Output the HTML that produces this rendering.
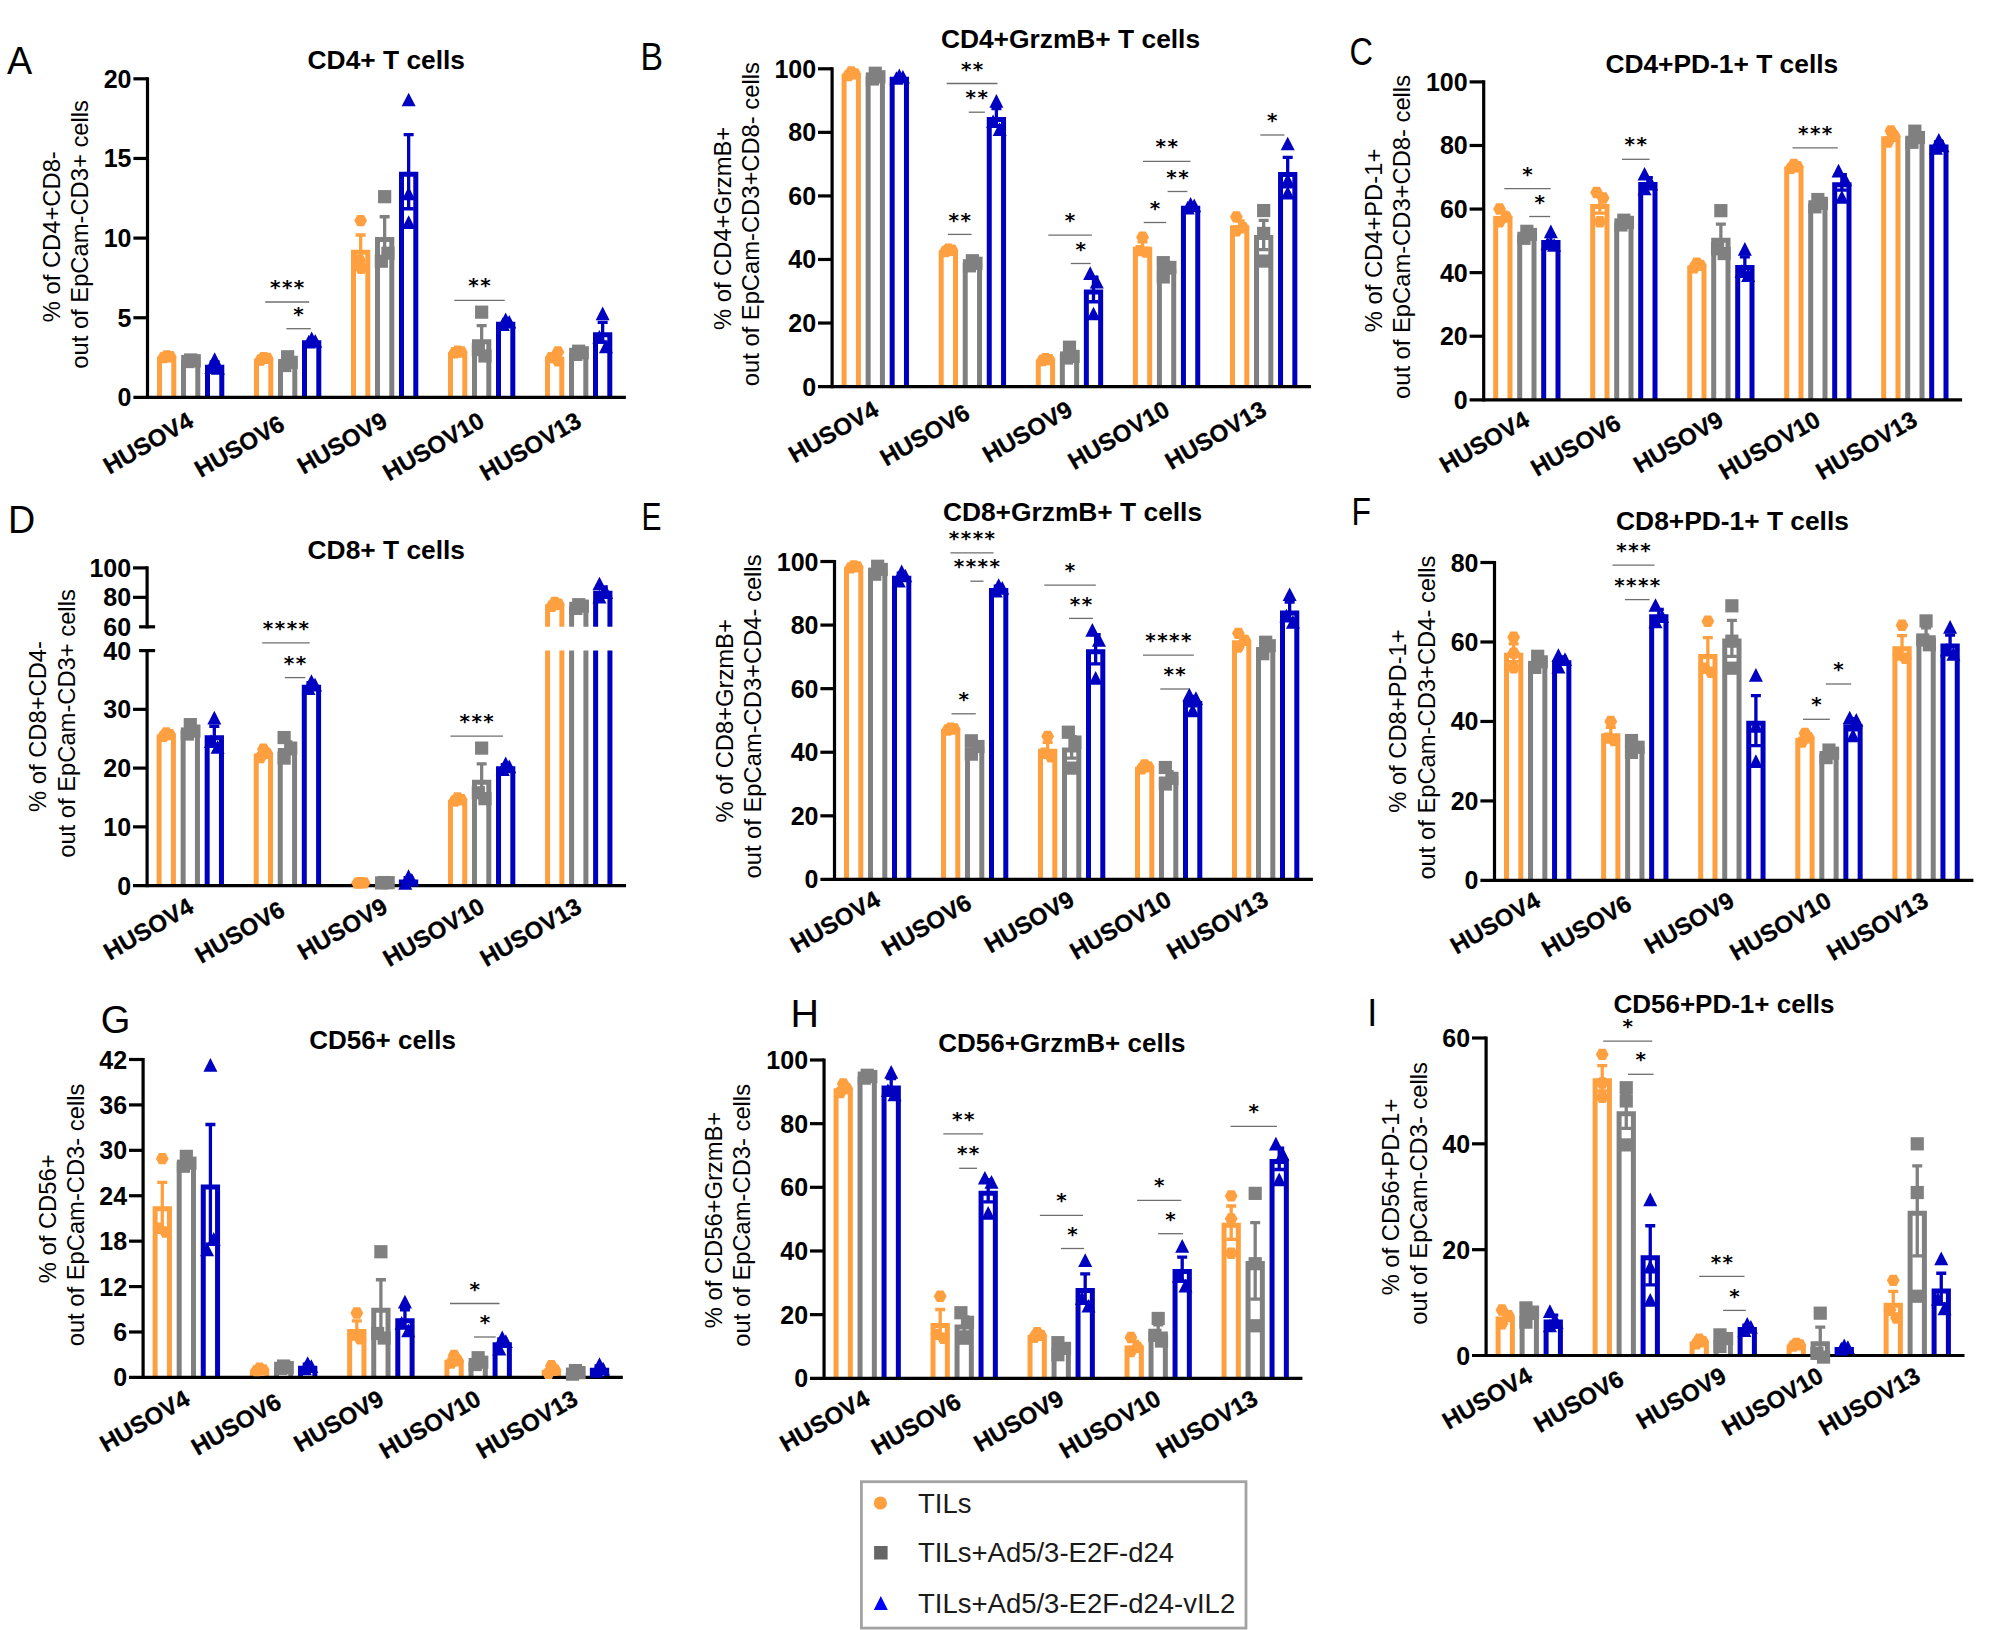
<!DOCTYPE html>
<html lang="en"><head><meta charset="utf-8"><title>Figure: T cell and NK cell phenotypes</title>
<style>
html,body{margin:0;padding:0;background:#fff;}
body{width:2000px;height:1630px;overflow:hidden;}
svg{display:block;}
text{font-family:"Liberation Sans",sans-serif;fill:#000;}
.tk{font-size:25px;font-weight:bold;text-anchor:end;}
.tt{font-size:26.6px;font-weight:bold;text-anchor:middle;}
.yl{font-size:23.75px;text-anchor:middle;}
.xl{font-size:24px;font-weight:bold;text-anchor:end;stroke:#000;stroke-width:0.3px;}
.st{font-family:"DejaVu Sans",sans-serif;font-size:20px;font-weight:bold;text-anchor:middle;letter-spacing:1.45px;}
.pl{font-size:38px;}
.lg{font-size:27.5px;fill:#1a1a1a;}
</style></head><body>
<svg width="2000" height="1630" viewBox="0 0 2000 1630">
<rect width="2000" height="1630" fill="#fff"/>
<g>
<path d="M159.5 397.4 V359.28 H173.8 V397.4" stroke="#FFA040" stroke-width="5" fill="none"/>
<path d="M183.5 397.4 V363.26 H197.8 V397.4" stroke="#808080" stroke-width="5" fill="none"/>
<path d="M207.5 397.4 V367.24 H221.8 V397.4" stroke="#0000C0" stroke-width="5" fill="none"/>
<path d="M214.65 361.95 V367.54 M209.65 361.95 H219.65 M209.65 367.54 H219.65" stroke="#0000C0" stroke-width="3.3" fill="none"/>
<path d="M256.5 397.4 V361.14 H270.8 V397.4" stroke="#FFA040" stroke-width="5" fill="none"/>
<path d="M280.5 397.4 V364.06 H294.8 V397.4" stroke="#808080" stroke-width="5" fill="none"/>
<path d="M287.65 359 V364.12 M282.65 359 H292.65 M282.65 364.12 H292.65" stroke="#808080" stroke-width="3.3" fill="none"/>
<path d="M304.5 397.4 V342.82 H318.8 V397.4" stroke="#0000C0" stroke-width="5" fill="none"/>
<path d="M353.5 397.4 V252.28 H367.8 V397.4" stroke="#FFA040" stroke-width="5" fill="none"/>
<path d="M360.65 235 V264.56 M355.65 235 H365.65 M355.65 264.56 H365.65" stroke="#FFA040" stroke-width="3.3" fill="none"/>
<path d="M377.5 397.4 V239.54 H391.8 V397.4" stroke="#808080" stroke-width="5" fill="none"/>
<path d="M384.65 216.73 V257.35 M379.65 216.73 H389.65 M379.65 257.35 H389.65" stroke="#808080" stroke-width="3.3" fill="none"/>
<path d="M401.5 397.4 V174.23 H415.8 V397.4" stroke="#0000C0" stroke-width="5" fill="none"/>
<path d="M408.65 134.68 V208.77 M403.65 134.68 H413.65 M403.65 208.77 H413.65" stroke="#0000C0" stroke-width="3.3" fill="none"/>
<path d="M450.5 397.4 V354.5 H464.8 V397.4" stroke="#FFA040" stroke-width="5" fill="none"/>
<path d="M474.5 397.4 V341.76 H488.8 V397.4" stroke="#808080" stroke-width="5" fill="none"/>
<path d="M481.65 325.59 V352.92 M476.65 325.59 H486.65 M476.65 352.92 H486.65" stroke="#808080" stroke-width="3.3" fill="none"/>
<path d="M498.5 397.4 V324.23 H512.8 V397.4" stroke="#0000C0" stroke-width="5" fill="none"/>
<path d="M547.5 397.4 V359.28 H561.8 V397.4" stroke="#FFA040" stroke-width="5" fill="none"/>
<path d="M554.65 354.22 V359.34 M549.65 354.22 H559.65 M549.65 359.34 H559.65" stroke="#FFA040" stroke-width="3.3" fill="none"/>
<path d="M571.5 397.4 V355.3 H585.8 V397.4" stroke="#808080" stroke-width="5" fill="none"/>
<path d="M595.5 397.4 V334.75 H609.8 V397.4" stroke="#0000C0" stroke-width="5" fill="none"/>
<path d="M602.65 322.45 V342.04 M597.65 322.45 H607.65 M597.65 342.04 H607.65" stroke="#0000C0" stroke-width="3.3" fill="none"/>
<path d="M147.5 399 V77.2" stroke="#000" stroke-width="3.2" fill="none"/>
<path d="M133.4 397.4 H625.9" stroke="#000" stroke-width="3.2"/>
<polygon points="160.25,355.98 163.35,350.28 169.95,350.28 173.05,355.98 169.95,361.68 163.35,361.68" fill="#FFA040"/>
<polygon points="163.85,356.78 166.95,351.08 173.55,351.08 176.65,356.78 173.55,362.48 166.95,362.48" fill="#FFA040"/>
<polygon points="157.35,357.57 160.45,351.88 167.05,351.88 170.15,357.57 167.05,363.27 160.45,363.27" fill="#FFA040"/>
<rect x="184.05" y="353.36" width="13.2" height="13.2" fill="#808080"/>
<rect x="187.65" y="354.16" width="13.2" height="13.2" fill="#808080"/>
<rect x="181.15" y="354.96" width="13.2" height="13.2" fill="#808080"/>
<polygon points="214.65,352.32 221.65,366.02 207.65,366.02" fill="#0000C0"/>
<polygon points="211.35,360.28 218.35,373.98 204.35,373.98" fill="#0000C0"/>
<polygon points="217.95,361.08 224.95,374.78 210.95,374.78" fill="#0000C0"/>
<polygon points="257.25,357.57 260.35,351.88 266.95,351.88 270.05,357.57 266.95,363.27 260.35,363.27" fill="#FFA040"/>
<polygon points="260.85,358.37 263.95,352.67 270.55,352.67 273.65,358.37 270.55,364.07 263.95,364.07" fill="#FFA040"/>
<polygon points="254.35,359.96 257.45,354.26 264.05,354.26 267.15,359.96 264.05,365.66 257.45,365.66" fill="#FFA040"/>
<rect x="281.05" y="350.18" width="13.2" height="13.2" fill="#808080"/>
<rect x="284.65" y="355.75" width="13.2" height="13.2" fill="#808080"/>
<rect x="278.15" y="358.94" width="13.2" height="13.2" fill="#808080"/>
<polygon points="311.65,331.61 318.65,345.31 304.65,345.31" fill="#0000C0"/>
<polygon points="315.25,334 322.25,347.7 308.25,347.7" fill="#0000C0"/>
<polygon points="308.75,334.79 315.75,348.5 301.75,348.5" fill="#0000C0"/>
<polygon points="354.25,220.58 357.35,214.88 363.95,214.88 367.05,220.58 363.95,226.28 357.35,226.28" fill="#FFA040"/>
<polygon points="353.25,260.4 356.35,254.7 362.95,254.7 366.05,260.4 362.95,266.1 356.35,266.1" fill="#FFA040"/>
<polygon points="354.75,268.37 357.85,262.67 364.45,262.67 367.55,268.37 364.45,274.07 357.85,274.07" fill="#FFA040"/>
<rect x="378.05" y="190.08" width="13.2" height="13.2" fill="#808080"/>
<rect x="381.35" y="246.63" width="13.2" height="13.2" fill="#808080"/>
<rect x="374.75" y="254.6" width="13.2" height="13.2" fill="#808080"/>
<polygon points="408.65,92.66 415.65,106.36 401.65,106.36" fill="#0000C0"/>
<polygon points="408.65,186.65 415.65,200.35 401.65,200.35" fill="#0000C0"/>
<polygon points="408.65,215.32 415.65,229.02 401.65,229.02" fill="#0000C0"/>
<polygon points="451.25,351.2 454.35,345.5 460.95,345.5 464.05,351.2 460.95,356.9 454.35,356.9" fill="#FFA040"/>
<polygon points="454.85,352 457.95,346.3 464.55,346.3 467.65,352 464.55,357.7 457.95,357.7" fill="#FFA040"/>
<polygon points="448.35,352.8 451.45,347.1 458.05,347.1 461.15,352.8 458.05,358.5 451.45,358.5" fill="#FFA040"/>
<rect x="475.05" y="305.57" width="13.2" height="13.2" fill="#808080"/>
<rect x="471.75" y="343.01" width="13.2" height="13.2" fill="#808080"/>
<rect x="478.35" y="349.38" width="13.2" height="13.2" fill="#808080"/>
<polygon points="505.65,312.49 512.65,326.19 498.65,326.19" fill="#0000C0"/>
<polygon points="509.25,314.88 516.25,328.58 502.25,328.58" fill="#0000C0"/>
<polygon points="502.75,317.27 509.75,330.97 495.75,330.97" fill="#0000C0"/>
<polygon points="551.55,352 554.65,346.3 561.25,346.3 564.35,352 561.25,357.7 554.65,357.7" fill="#FFA040"/>
<polygon points="544.95,357.57 548.05,351.88 554.65,351.88 557.75,357.57 554.65,363.27 548.05,363.27" fill="#FFA040"/>
<polygon points="551.55,360.76 554.65,355.06 561.25,355.06 564.35,360.76 561.25,366.46 554.65,366.46" fill="#FFA040"/>
<rect x="572.05" y="344.6" width="13.2" height="13.2" fill="#808080"/>
<rect x="575.65" y="346.2" width="13.2" height="13.2" fill="#808080"/>
<rect x="569.15" y="347.79" width="13.2" height="13.2" fill="#808080"/>
<polygon points="602.65,306.6 609.65,320.3 595.65,320.3" fill="#0000C0"/>
<polygon points="599.35,330.02 606.35,343.72 592.35,343.72" fill="#0000C0"/>
<polygon points="605.95,339.57 612.95,353.27 598.95,353.27" fill="#0000C0"/>
<text class="tk" x="131.5" y="406.4">0</text>
<path d="M133.4 317.75 H147.5" stroke="#000" stroke-width="3.2"/>
<text class="tk" x="131.5" y="326.75">5</text>
<path d="M133.4 238.1 H147.5" stroke="#000" stroke-width="3.2"/>
<text class="tk" x="131.5" y="247.1">10</text>
<path d="M133.4 158.45 H147.5" stroke="#000" stroke-width="3.2"/>
<text class="tk" x="131.5" y="167.45">15</text>
<path d="M133.4 78.8 H147.5" stroke="#000" stroke-width="3.2"/>
<text class="tk" x="131.5" y="87.8">20</text>
<text class="tt" x="386.3" y="68.8" style="font-size:26.35px">CD4+ T cells</text>
<text class="yl" transform="translate(59.6 236.7) rotate(-90)">% of CD4+CD8-</text>
<text class="yl" transform="translate(88 234.4) rotate(-90)">out of EpCam-CD3+ cells</text>
<text class="xl" transform="translate(194.95 425.5) rotate(-30)">HUSOV4</text>
<text class="xl" transform="translate(286.35 428.75) rotate(-30)">HUSOV6</text>
<text class="xl" transform="translate(388.95 425.5) rotate(-30)">HUSOV9</text>
<text class="xl" transform="translate(485.95 425.5) rotate(-30)">HUSOV10</text>
<text class="xl" transform="translate(582.95 425.5) rotate(-30)">HUSOV13</text>
<path d="M265.2 302 H309.2" stroke="#6e6e6e" stroke-width="1.3"/>
<text class="st" x="287.9" y="294.1">***</text>
<path d="M286.4 328.7 H310.8" stroke="#6e6e6e" stroke-width="1.3"/>
<text class="st" x="299.3" y="320.8">*</text>
<path d="M454.3 300.3 H504.7" stroke="#6e6e6e" stroke-width="1.3"/>
<text class="st" x="480.2" y="292.4">**</text>
<text class="pl" x="7" y="73.6" textLength="25.2" lengthAdjust="spacingAndGlyphs">A</text>
</g>
<g>
<path d="M844.11 386.6 V76.28 H858.41 V386.6" stroke="#FFA040" stroke-width="5" fill="none"/>
<path d="M868.13 386.6 V78.82 H882.43 V386.6" stroke="#808080" stroke-width="5" fill="none"/>
<path d="M875.28 74.66 V77.99 M870.28 74.66 H880.28 M870.28 77.99 H880.28" stroke="#808080" stroke-width="3.3" fill="none"/>
<path d="M892.16 386.6 V79.25 H906.46 V386.6" stroke="#0000C0" stroke-width="5" fill="none"/>
<path d="M941.21 386.6 V252.87 H955.51 V386.6" stroke="#FFA040" stroke-width="5" fill="none"/>
<path d="M965.23 386.6 V265.79 H979.53 V386.6" stroke="#808080" stroke-width="5" fill="none"/>
<path d="M989.25 386.6 V119.61 H1003.55 V386.6" stroke="#0000C0" stroke-width="5" fill="none"/>
<path d="M996.4 108.68 V125.53 M991.4 108.68 H1001.4 M991.4 125.53 H1001.4" stroke="#0000C0" stroke-width="3.3" fill="none"/>
<path d="M1038.3 386.6 V362.09 H1052.6 V386.6" stroke="#FFA040" stroke-width="5" fill="none"/>
<path d="M1062.33 386.6 V356.37 H1076.63 V386.6" stroke="#808080" stroke-width="5" fill="none"/>
<path d="M1069.48 350.5 V357.23 M1064.48 350.5 H1074.48 M1064.48 357.23 H1074.48" stroke="#808080" stroke-width="3.3" fill="none"/>
<path d="M1086.35 386.6 V291.96 H1100.65 V386.6" stroke="#0000C0" stroke-width="5" fill="none"/>
<path d="M1093.5 277.18 V301.74 M1088.5 277.18 H1098.5 M1088.5 301.74 H1098.5" stroke="#0000C0" stroke-width="3.3" fill="none"/>
<path d="M1135.4 386.6 V249.16 H1149.7 V386.6" stroke="#FFA040" stroke-width="5" fill="none"/>
<path d="M1142.55 241.93 V251.4 M1137.55 241.93 H1147.55 M1137.55 251.4 H1147.55" stroke="#FFA040" stroke-width="3.3" fill="none"/>
<path d="M1159.42 386.6 V271.51 H1173.72 V386.6" stroke="#808080" stroke-width="5" fill="none"/>
<path d="M1166.57 264.81 V273.22 M1161.57 264.81 H1171.57 M1161.57 273.22 H1171.57" stroke="#808080" stroke-width="3.3" fill="none"/>
<path d="M1183.45 386.6 V208.17 H1197.75 V386.6" stroke="#0000C0" stroke-width="5" fill="none"/>
<path d="M1232.5 386.6 V227.66 H1246.8 V386.6" stroke="#FFA040" stroke-width="5" fill="none"/>
<path d="M1239.65 220.93 V229.39 M1234.65 220.93 H1244.65 M1234.65 229.39 H1244.65" stroke="#FFA040" stroke-width="3.3" fill="none"/>
<path d="M1256.52 386.6 V237.51 H1270.82 V386.6" stroke="#808080" stroke-width="5" fill="none"/>
<path d="M1263.67 220.4 V249.62 M1258.67 220.4 H1268.67 M1258.67 249.62 H1268.67" stroke="#808080" stroke-width="3.3" fill="none"/>
<path d="M1280.55 386.6 V174.59 H1294.85 V386.6" stroke="#0000C0" stroke-width="5" fill="none"/>
<path d="M1287.7 157.32 V186.85 M1282.7 157.32 H1292.7 M1282.7 186.85 H1292.7" stroke="#0000C0" stroke-width="3.3" fill="none"/>
<path d="M832.1 388.2 V67.2" stroke="#000" stroke-width="3.2" fill="none"/>
<path d="M818 386.6 H1310.98" stroke="#000" stroke-width="3.2"/>
<polygon points="844.86,71.98 847.96,66.28 854.56,66.28 857.66,71.98 854.56,77.68 847.96,77.68" fill="#FFA040"/>
<polygon points="848.46,73.88 851.56,68.18 858.16,68.18 861.26,73.88 858.16,79.58 851.56,79.58" fill="#FFA040"/>
<polygon points="841.96,75.47 845.06,69.77 851.66,69.77 854.76,75.47 851.66,81.17 845.06,81.17" fill="#FFA040"/>
<rect x="868.68" y="66.65" width="13.2" height="13.2" fill="#808080"/>
<rect x="872.28" y="70.15" width="13.2" height="13.2" fill="#808080"/>
<rect x="865.78" y="72.37" width="13.2" height="13.2" fill="#808080"/>
<polygon points="899.31,68.62 906.31,82.32 892.31,82.32" fill="#0000C0"/>
<polygon points="902.91,69.9 909.91,83.59 895.91,83.59" fill="#0000C0"/>
<polygon points="896.41,71.17 903.41,84.87 889.41,84.87" fill="#0000C0"/>
<polygon points="941.96,249.31 945.06,243.61 951.66,243.61 954.76,249.31 951.66,255.01 945.06,255.01" fill="#FFA040"/>
<polygon points="945.56,250.26 948.66,244.56 955.26,244.56 958.36,250.26 955.26,255.96 948.66,255.96" fill="#FFA040"/>
<polygon points="939.06,251.54 942.16,245.84 948.76,245.84 951.86,251.54 948.76,257.24 942.16,257.24" fill="#FFA040"/>
<rect x="965.78" y="254.15" width="13.2" height="13.2" fill="#808080"/>
<rect x="969.38" y="256.69" width="13.2" height="13.2" fill="#808080"/>
<rect x="962.88" y="259.24" width="13.2" height="13.2" fill="#808080"/>
<polygon points="996.4,94.05 1003.4,107.75 989.4,107.75" fill="#0000C0"/>
<polygon points="993.1,114.39 1000.1,128.09 986.1,128.09" fill="#0000C0"/>
<polygon points="999.7,122.33 1006.7,136.03 992.7,136.03" fill="#0000C0"/>
<polygon points="1039.05,358.63 1042.15,352.93 1048.75,352.93 1051.85,358.63 1048.75,364.33 1042.15,364.33" fill="#FFA040"/>
<polygon points="1042.65,359.59 1045.75,353.89 1052.35,353.89 1055.45,359.59 1052.35,365.29 1045.75,365.29" fill="#FFA040"/>
<polygon points="1036.15,360.54 1039.25,354.84 1045.85,354.84 1048.95,360.54 1045.85,366.24 1039.25,366.24" fill="#FFA040"/>
<rect x="1062.88" y="340.59" width="13.2" height="13.2" fill="#808080"/>
<rect x="1066.48" y="349.81" width="13.2" height="13.2" fill="#808080"/>
<rect x="1059.98" y="351.4" width="13.2" height="13.2" fill="#808080"/>
<polygon points="1090.2,266.3 1097.2,280 1083.2,280" fill="#0000C0"/>
<polygon points="1096.8,274.88 1103.8,288.58 1089.8,288.58" fill="#0000C0"/>
<polygon points="1093.5,306.66 1100.5,320.36 1086.5,320.36" fill="#0000C0"/>
<polygon points="1136.15,237.23 1139.25,231.53 1145.85,231.53 1148.95,237.23 1145.85,242.93 1139.25,242.93" fill="#FFA040"/>
<polygon points="1132.85,250.58 1135.95,244.88 1142.55,244.88 1145.65,250.58 1142.55,256.28 1135.95,256.28" fill="#FFA040"/>
<polygon points="1139.45,252.17 1142.55,246.47 1149.15,246.47 1152.25,252.17 1149.15,257.87 1142.55,257.87" fill="#FFA040"/>
<rect x="1156.67" y="256.06" width="13.2" height="13.2" fill="#808080"/>
<rect x="1163.27" y="260.82" width="13.2" height="13.2" fill="#808080"/>
<rect x="1156.67" y="270.36" width="13.2" height="13.2" fill="#808080"/>
<polygon points="1190.6,197.02 1197.6,210.72 1183.6,210.72" fill="#0000C0"/>
<polygon points="1194.2,198.6 1201.2,212.3 1187.2,212.3" fill="#0000C0"/>
<polygon points="1187.7,200.83 1194.7,214.53 1180.7,214.53" fill="#0000C0"/>
<polygon points="1229.95,216.89 1233.05,211.19 1239.65,211.19 1242.75,216.89 1239.65,222.59 1233.05,222.59" fill="#FFA040"/>
<polygon points="1236.55,227.7 1239.65,222 1246.25,222 1249.35,227.7 1246.25,233.4 1239.65,233.4" fill="#FFA040"/>
<polygon points="1229.95,230.88 1233.05,225.18 1239.65,225.18 1242.75,230.88 1239.65,236.58 1233.05,236.58" fill="#FFA040"/>
<rect x="1257.07" y="203.94" width="13.2" height="13.2" fill="#808080"/>
<rect x="1257.07" y="226.82" width="13.2" height="13.2" fill="#808080"/>
<rect x="1257.07" y="254.47" width="13.2" height="13.2" fill="#808080"/>
<polygon points="1287.7,136.63 1294.7,150.33 1280.7,150.33" fill="#0000C0"/>
<polygon points="1287.7,173.18 1294.7,186.88 1280.7,186.88" fill="#0000C0"/>
<polygon points="1287.7,185.89 1294.7,199.59 1280.7,199.59" fill="#0000C0"/>
<text class="tk" x="816.1" y="395.6">0</text>
<path d="M818 323.04 H832.1" stroke="#000" stroke-width="3.2"/>
<text class="tk" x="816.1" y="332.04">20</text>
<path d="M818 259.48 H832.1" stroke="#000" stroke-width="3.2"/>
<text class="tk" x="816.1" y="268.48">40</text>
<path d="M818 195.92 H832.1" stroke="#000" stroke-width="3.2"/>
<text class="tk" x="816.1" y="204.92">60</text>
<path d="M818 132.36 H832.1" stroke="#000" stroke-width="3.2"/>
<text class="tk" x="816.1" y="141.36">80</text>
<path d="M818 68.8 H832.1" stroke="#000" stroke-width="3.2"/>
<text class="tk" x="816.1" y="77.8">100</text>
<text class="tt" x="1070.5" y="47.5" style="font-size:26.35px">CD4+GrzmB+ T cells</text>
<text class="yl" transform="translate(731.1 228.4) rotate(-90)">% of CD4+GrzmB+</text>
<text class="yl" transform="translate(759.1 224.2) rotate(-90)">out of EpCam-CD3+CD8- cells</text>
<text class="xl" transform="translate(880.25 414.2) rotate(-30)">HUSOV4</text>
<text class="xl" transform="translate(971.65 417.45) rotate(-30)">HUSOV6</text>
<text class="xl" transform="translate(1074.25 414.2) rotate(-30)">HUSOV9</text>
<text class="xl" transform="translate(1171.25 414.2) rotate(-30)">HUSOV10</text>
<text class="xl" transform="translate(1268.25 414.2) rotate(-30)">HUSOV13</text>
<path d="M946.7 83.5 H997.5" stroke="#6e6e6e" stroke-width="1.3"/>
<text class="st" x="972.8" y="75.6">**</text>
<path d="M968.7 112.2 H984.9" stroke="#6e6e6e" stroke-width="1.3"/>
<text class="st" x="977.5" y="104.3">**</text>
<path d="M947.8 234.4 H971.6" stroke="#6e6e6e" stroke-width="1.3"/>
<text class="st" x="960.4" y="226.5">**</text>
<path d="M1048.3 235.1 H1091.8" stroke="#6e6e6e" stroke-width="1.3"/>
<text class="st" x="1070.75" y="227.2">*</text>
<path d="M1070.8 263.5 H1090.7" stroke="#6e6e6e" stroke-width="1.3"/>
<text class="st" x="1081.45" y="255.6">*</text>
<path d="M1143 161.3 H1190.5" stroke="#6e6e6e" stroke-width="1.3"/>
<text class="st" x="1167.45" y="153.4">**</text>
<path d="M1167.6 191.5 H1187.4" stroke="#6e6e6e" stroke-width="1.3"/>
<text class="st" x="1178.2" y="183.6">**</text>
<path d="M1143.7 222.5 H1166.2" stroke="#6e6e6e" stroke-width="1.3"/>
<text class="st" x="1155.65" y="214.6">*</text>
<path d="M1260.3 135 H1284.4" stroke="#6e6e6e" stroke-width="1.3"/>
<text class="st" x="1273.05" y="127.1">*</text>
<text class="pl" x="640.5" y="70" textLength="22.5" lengthAdjust="spacingAndGlyphs">B</text>
</g>
<g>
<path d="M1495.7 399.8 V218.45 H1510 V399.8" stroke="#FFA040" stroke-width="5" fill="none"/>
<path d="M1502.85 212.24 V219.66 M1497.85 212.24 H1507.85 M1497.85 219.66 H1507.85" stroke="#FFA040" stroke-width="3.3" fill="none"/>
<path d="M1519.7 399.8 V237.2 H1534 V399.8" stroke="#808080" stroke-width="5" fill="none"/>
<path d="M1526.85 232.68 V236.73 M1521.85 232.68 H1531.85 M1521.85 236.73 H1531.85" stroke="#808080" stroke-width="3.3" fill="none"/>
<path d="M1543.7 399.8 V242.4 H1558 V399.8" stroke="#0000C0" stroke-width="5" fill="none"/>
<path d="M1550.85 235.58 V244.21 M1545.85 235.58 H1555.85 M1545.85 244.21 H1555.85" stroke="#0000C0" stroke-width="3.3" fill="none"/>
<path d="M1592.7 399.8 V206.58 H1607 V399.8" stroke="#FFA040" stroke-width="5" fill="none"/>
<path d="M1599.85 195.09 V213.06 M1594.85 195.09 H1604.85 M1594.85 213.06 H1604.85" stroke="#FFA040" stroke-width="3.3" fill="none"/>
<path d="M1616.7 399.8 V225.02 H1631 V399.8" stroke="#808080" stroke-width="5" fill="none"/>
<path d="M1640.7 399.8 V184.43 H1655 V399.8" stroke="#0000C0" stroke-width="5" fill="none"/>
<path d="M1647.85 177.63 V186.24 M1642.85 177.63 H1652.85 M1642.85 186.24 H1652.85" stroke="#0000C0" stroke-width="3.3" fill="none"/>
<path d="M1689.7 399.8 V267.93 H1704 V399.8" stroke="#FFA040" stroke-width="5" fill="none"/>
<path d="M1713.7 399.8 V240.17 H1728 V399.8" stroke="#808080" stroke-width="5" fill="none"/>
<path d="M1720.85 224.09 V251.25 M1715.85 224.09 H1725.85 M1715.85 251.25 H1725.85" stroke="#808080" stroke-width="3.3" fill="none"/>
<path d="M1737.7 399.8 V267.51 H1752 V399.8" stroke="#0000C0" stroke-width="5" fill="none"/>
<path d="M1744.85 256.82 V273.2 M1739.85 256.82 H1749.85 M1739.85 273.2 H1749.85" stroke="#0000C0" stroke-width="3.3" fill="none"/>
<path d="M1786.7 399.8 V169.07 H1801 V399.8" stroke="#FFA040" stroke-width="5" fill="none"/>
<path d="M1810.7 399.8 V205.73 H1825 V399.8" stroke="#808080" stroke-width="5" fill="none"/>
<path d="M1817.85 201.12 V205.34 M1812.85 201.12 H1822.85 M1812.85 205.34 H1822.85" stroke="#808080" stroke-width="3.3" fill="none"/>
<path d="M1834.7 399.8 V184.86 H1849 V399.8" stroke="#0000C0" stroke-width="5" fill="none"/>
<path d="M1841.85 174.61 V190.11 M1836.85 174.61 H1846.85 M1836.85 190.11 H1846.85" stroke="#0000C0" stroke-width="3.3" fill="none"/>
<path d="M1883.7 399.8 V138.87 H1898 V399.8" stroke="#FFA040" stroke-width="5" fill="none"/>
<path d="M1890.85 133.15 V139.58 M1885.85 133.15 H1895.85 M1885.85 139.58 H1895.85" stroke="#FFA040" stroke-width="3.3" fill="none"/>
<path d="M1907.7 399.8 V139.5 H1922 V399.8" stroke="#808080" stroke-width="5" fill="none"/>
<path d="M1914.85 133.78 V140.23 M1909.85 133.78 H1919.85 M1909.85 140.23 H1919.85" stroke="#808080" stroke-width="3.3" fill="none"/>
<path d="M1931.7 399.8 V146.92 H1946 V399.8" stroke="#0000C0" stroke-width="5" fill="none"/>
<path d="M1938.85 141.98 V146.86 M1933.85 141.98 H1943.85 M1933.85 146.86 H1943.85" stroke="#0000C0" stroke-width="3.3" fill="none"/>
<path d="M1483.7 401.4 V80.3" stroke="#000" stroke-width="3.2" fill="none"/>
<path d="M1469.6 399.8 H1962.1" stroke="#000" stroke-width="3.2"/>
<polygon points="1493.15,209.06 1496.25,203.36 1502.85,203.36 1505.95,209.06 1502.85,214.76 1496.25,214.76" fill="#FFA040"/>
<polygon points="1499.75,217.01 1502.85,211.31 1509.45,211.31 1512.55,217.01 1509.45,222.71 1502.85,222.71" fill="#FFA040"/>
<polygon points="1493.15,221.78 1496.25,216.08 1502.85,216.08 1505.95,221.78 1502.85,227.48 1496.25,227.48" fill="#FFA040"/>
<rect x="1520.25" y="224.71" width="13.2" height="13.2" fill="#808080"/>
<rect x="1523.85" y="227.89" width="13.2" height="13.2" fill="#808080"/>
<rect x="1517.35" y="231.71" width="13.2" height="13.2" fill="#808080"/>
<polygon points="1550.85,224.46 1557.85,238.16 1543.85,238.16" fill="#0000C0"/>
<polygon points="1547.55,236.54 1554.55,250.24 1540.55,250.24" fill="#0000C0"/>
<polygon points="1554.15,238.13 1561.15,251.83 1547.15,251.83" fill="#0000C0"/>
<polygon points="1590.15,192.53 1593.25,186.83 1599.85,186.83 1602.95,192.53 1599.85,198.23 1593.25,198.23" fill="#FFA040"/>
<polygon points="1596.75,197.93 1599.85,192.23 1606.45,192.23 1609.55,197.93 1606.45,203.63 1599.85,203.63" fill="#FFA040"/>
<polygon points="1593.45,221.78 1596.55,216.08 1603.15,216.08 1606.25,221.78 1603.15,227.48 1596.55,227.48" fill="#FFA040"/>
<rect x="1617.25" y="213.59" width="13.2" height="13.2" fill="#808080"/>
<rect x="1620.85" y="215.81" width="13.2" height="13.2" fill="#808080"/>
<rect x="1614.35" y="218.36" width="13.2" height="13.2" fill="#808080"/>
<polygon points="1644.55,166.92 1651.55,180.62 1637.55,180.62" fill="#0000C0"/>
<polygon points="1651.15,176.78 1658.15,190.48 1644.15,190.48" fill="#0000C0"/>
<polygon points="1644.55,181.55 1651.55,195.25 1637.55,195.25" fill="#0000C0"/>
<polygon points="1690.45,263.1 1693.55,257.4 1700.15,257.4 1703.25,263.1 1700.15,268.8 1693.55,268.8" fill="#FFA040"/>
<polygon points="1694.05,265.33 1697.15,259.63 1703.75,259.63 1706.85,265.33 1703.75,271.03 1697.15,271.03" fill="#FFA040"/>
<polygon points="1687.55,267.87 1690.65,262.17 1697.25,262.17 1700.35,267.87 1697.25,273.57 1690.65,273.57" fill="#FFA040"/>
<rect x="1714.25" y="204.05" width="13.2" height="13.2" fill="#808080"/>
<rect x="1710.95" y="242.2" width="13.2" height="13.2" fill="#808080"/>
<rect x="1717.55" y="246.97" width="13.2" height="13.2" fill="#808080"/>
<polygon points="1744.85,241.95 1751.85,255.65 1737.85,255.65" fill="#0000C0"/>
<polygon points="1741.55,264.2 1748.55,277.9 1734.55,277.9" fill="#0000C0"/>
<polygon points="1748.15,268.33 1755.15,282.03 1741.15,282.03" fill="#0000C0"/>
<polygon points="1787.45,164.55 1790.55,158.85 1797.15,158.85 1800.25,164.55 1797.15,170.25 1790.55,170.25" fill="#FFA040"/>
<polygon points="1791.05,166.78 1794.15,161.08 1800.75,161.08 1803.85,166.78 1800.75,172.48 1794.15,172.48" fill="#FFA040"/>
<polygon points="1784.55,168.37 1787.65,162.67 1794.25,162.67 1797.35,168.37 1794.25,174.07 1787.65,174.07" fill="#FFA040"/>
<rect x="1811.25" y="192.92" width="13.2" height="13.2" fill="#808080"/>
<rect x="1814.85" y="196.74" width="13.2" height="13.2" fill="#808080"/>
<rect x="1808.35" y="200.23" width="13.2" height="13.2" fill="#808080"/>
<polygon points="1838.55,163.74 1845.55,177.44 1831.55,177.44" fill="#0000C0"/>
<polygon points="1845.15,172.65 1852.15,186.35 1838.15,186.35" fill="#0000C0"/>
<polygon points="1841.85,190.13 1848.85,203.83 1834.85,203.83" fill="#0000C0"/>
<polygon points="1884.45,130.86 1887.55,125.16 1894.15,125.16 1897.25,130.86 1894.15,136.56 1887.55,136.56" fill="#FFA040"/>
<polygon points="1888.05,136.26 1891.15,130.56 1897.75,130.56 1900.85,136.26 1897.75,141.96 1891.15,141.96" fill="#FFA040"/>
<polygon points="1881.55,141.98 1884.65,136.28 1891.25,136.28 1894.35,141.98 1891.25,147.68 1884.65,147.68" fill="#FFA040"/>
<rect x="1908.25" y="124.57" width="13.2" height="13.2" fill="#808080"/>
<rect x="1911.85" y="130.93" width="13.2" height="13.2" fill="#808080"/>
<rect x="1905.35" y="135.7" width="13.2" height="13.2" fill="#808080"/>
<polygon points="1938.85,132.91 1945.85,146.61 1931.85,146.61" fill="#0000C0"/>
<polygon points="1942.45,138.63 1949.45,152.33 1935.45,152.33" fill="#0000C0"/>
<polygon points="1935.95,141.17 1942.95,154.87 1928.95,154.87" fill="#0000C0"/>
<text class="tk" x="1467.7" y="408.8">0</text>
<path d="M1469.6 336.22 H1483.7" stroke="#000" stroke-width="3.2"/>
<text class="tk" x="1467.7" y="345.22">20</text>
<path d="M1469.6 272.64 H1483.7" stroke="#000" stroke-width="3.2"/>
<text class="tk" x="1467.7" y="281.64">40</text>
<path d="M1469.6 209.06 H1483.7" stroke="#000" stroke-width="3.2"/>
<text class="tk" x="1467.7" y="218.06">60</text>
<path d="M1469.6 145.48 H1483.7" stroke="#000" stroke-width="3.2"/>
<text class="tk" x="1467.7" y="154.48">80</text>
<path d="M1469.6 81.9 H1483.7" stroke="#000" stroke-width="3.2"/>
<text class="tk" x="1467.7" y="90.9">100</text>
<text class="tt" x="1721.8" y="72.5" style="font-size:26.35px">CD4+PD-1+ T cells</text>
<text class="yl" transform="translate(1382.1 240.5) rotate(-90)">% of CD4+PD-1+</text>
<text class="yl" transform="translate(1410.1 237) rotate(-90)">out of EpCam-CD3+CD8- cells</text>
<text class="xl" transform="translate(1531.15 424.5) rotate(-30)">HUSOV4</text>
<text class="xl" transform="translate(1622.55 427.75) rotate(-30)">HUSOV6</text>
<text class="xl" transform="translate(1725.15 424.5) rotate(-30)">HUSOV9</text>
<text class="xl" transform="translate(1822.15 424.5) rotate(-30)">HUSOV10</text>
<text class="xl" transform="translate(1919.15 424.5) rotate(-30)">HUSOV13</text>
<path d="M1504.3 188.7 H1550.7" stroke="#6e6e6e" stroke-width="1.3"/>
<text class="st" x="1528.2" y="180.8">*</text>
<path d="M1529.2 216.5 H1550.2" stroke="#6e6e6e" stroke-width="1.3"/>
<text class="st" x="1540.4" y="208.6">*</text>
<path d="M1622 159.3 H1649.6" stroke="#6e6e6e" stroke-width="1.3"/>
<text class="st" x="1636.5" y="151.4">**</text>
<path d="M1792.5 147.8 H1837.8" stroke="#6e6e6e" stroke-width="1.3"/>
<text class="st" x="1815.85" y="139.9">***</text>
<text class="pl" x="1349.5" y="65" textLength="23.5" lengthAdjust="spacingAndGlyphs">C</text>
</g>
<g>
<path d="M159.11 885.6 V737.11 H173.41 V885.6" stroke="#FFA040" stroke-width="5" fill="none"/>
<path d="M183.14 885.6 V732.41 H197.44 V885.6" stroke="#808080" stroke-width="5" fill="none"/>
<path d="M190.29 727.14 V732.69 M185.29 727.14 H195.29 M185.29 732.69 H195.29" stroke="#808080" stroke-width="3.3" fill="none"/>
<path d="M207.17 885.6 V737.7 H221.47 V885.6" stroke="#0000C0" stroke-width="5" fill="none"/>
<path d="M214.32 726.23 V744.17 M209.32 726.23 H219.32 M209.32 744.17 H219.32" stroke="#0000C0" stroke-width="3.3" fill="none"/>
<path d="M256.23 885.6 V755.91 H270.53 V885.6" stroke="#FFA040" stroke-width="5" fill="none"/>
<path d="M263.38 751.04 V755.79 M258.38 751.04 H268.38 M258.38 755.79 H268.38" stroke="#FFA040" stroke-width="3.3" fill="none"/>
<path d="M280.26 885.6 V750.43 H294.56 V885.6" stroke="#808080" stroke-width="5" fill="none"/>
<path d="M287.41 741.99 V753.87 M282.41 741.99 H292.41 M282.41 753.87 H292.41" stroke="#808080" stroke-width="3.3" fill="none"/>
<path d="M304.29 885.6 V687.18 H318.59 V885.6" stroke="#0000C0" stroke-width="5" fill="none"/>
<path d="M311.44 682.64 V686.71 M306.44 682.64 H316.44 M306.44 686.71 H316.44" stroke="#0000C0" stroke-width="3.3" fill="none"/>
<rect x="350.84" y="882.9" width="19.3" height="2.7" fill="#FFA040"/>
<rect x="374.87" y="882.7" width="19.3" height="2.9" fill="#808080"/>
<path d="M401.4 885.6 V882.07 H415.7 V885.6" stroke="#0000C0" stroke-width="5" fill="none"/>
<path d="M408.55 877.6 V881.54 M403.55 877.6 H413.55 M403.55 881.54 H413.55" stroke="#0000C0" stroke-width="3.3" fill="none"/>
<path d="M450.46 885.6 V802.13 H464.76 V885.6" stroke="#FFA040" stroke-width="5" fill="none"/>
<path d="M474.49 885.6 V782.35 H488.79 V885.6" stroke="#808080" stroke-width="5" fill="none"/>
<path d="M481.64 763.9 V795.8 M476.64 763.9 H486.64 M476.64 795.8 H486.64" stroke="#808080" stroke-width="3.3" fill="none"/>
<path d="M498.52 885.6 V768.84 H512.82 V885.6" stroke="#0000C0" stroke-width="5" fill="none"/>
<path d="M505.67 764.64 V768.03 M500.67 764.64 H510.67 M500.67 768.03 H510.67" stroke="#0000C0" stroke-width="3.3" fill="none"/>
<path d="M547.58 885.6 V650.6 M561.88 885.6 V650.6" stroke="#FFA040" stroke-width="5" fill="none"/>
<path d="M547.58 626.8 V606.82 H561.88 V626.8" stroke="#FFA040" stroke-width="5" fill="none"/>
<path d="M571.61 885.6 V650.6 M585.91 885.6 V650.6" stroke="#808080" stroke-width="5" fill="none"/>
<path d="M571.61 626.8 V608.93 H585.91 V626.8" stroke="#808080" stroke-width="5" fill="none"/>
<path d="M595.63 885.6 V650.6 M609.93 885.6 V650.6" stroke="#0000C0" stroke-width="5" fill="none"/>
<path d="M595.63 626.8 V593.27 H609.93 V626.8" stroke="#0000C0" stroke-width="5" fill="none"/>
<path d="M602.78 586.92 V594.62 M597.78 586.92 H607.78 M597.78 594.62 H607.78" stroke="#0000C0" stroke-width="3.3" fill="none"/>
<path d="M147.1 887.2 V649" stroke="#000" stroke-width="3.2" fill="none"/>
<path d="M147.1 628.4 V566.3" stroke="#000" stroke-width="3.2" fill="none"/>
<path d="M139.1 650.6 H155.1" stroke="#000" stroke-width="3.2"/>
<path d="M139.1 626.8 H155.1" stroke="#000" stroke-width="3.2"/>
<path d="M133 885.6 H626.07" stroke="#000" stroke-width="3.2"/>
<polygon points="159.86,732.85 162.96,727.15 169.56,727.15 172.66,732.85 169.56,738.55 162.96,738.55" fill="#FFA040"/>
<polygon points="163.46,734.61 166.56,728.91 173.16,728.91 176.26,734.61 173.16,740.31 166.56,740.31" fill="#FFA040"/>
<polygon points="156.96,736.38 160.06,730.67 166.66,730.67 169.76,736.38 166.66,742.08 160.06,742.08" fill="#FFA040"/>
<rect x="183.69" y="718.02" width="13.2" height="13.2" fill="#808080"/>
<rect x="187.29" y="724.49" width="13.2" height="13.2" fill="#808080"/>
<rect x="180.79" y="727.42" width="13.2" height="13.2" fill="#808080"/>
<polygon points="214.32,710.73 221.32,724.43 207.32,724.43" fill="#0000C0"/>
<polygon points="211.02,734.23 218.02,747.93 204.02,747.93" fill="#0000C0"/>
<polygon points="217.62,740.1 224.62,753.8 210.62,753.8" fill="#0000C0"/>
<polygon points="256.98,749.3 260.08,743.6 266.68,743.6 269.78,749.3 266.68,755 260.08,755" fill="#FFA040"/>
<polygon points="260.58,753.41 263.68,747.71 270.28,747.71 273.38,753.41 270.28,759.11 263.68,759.11" fill="#FFA040"/>
<polygon points="254.08,757.52 257.18,751.82 263.78,751.82 266.88,757.52 263.78,763.23 257.18,763.23" fill="#FFA040"/>
<rect x="277.51" y="730.95" width="13.2" height="13.2" fill="#808080"/>
<rect x="284.11" y="741.52" width="13.2" height="13.2" fill="#808080"/>
<rect x="277.51" y="751.51" width="13.2" height="13.2" fill="#808080"/>
<polygon points="311.44,674.3 318.44,688 304.44,688" fill="#0000C0"/>
<polygon points="315.04,677.82 322.04,691.52 308.04,691.52" fill="#0000C0"/>
<polygon points="308.54,681.35 315.54,695.05 301.54,695.05" fill="#0000C0"/>
<polygon points="354.09,882.66 357.19,876.96 363.79,876.96 366.89,882.66 363.79,888.36 357.19,888.36" fill="#FFA040"/>
<polygon points="357.69,882.9 360.79,877.2 367.39,877.2 370.49,882.9 367.39,888.6 360.79,888.6" fill="#FFA040"/>
<polygon points="351.19,883.13 354.29,877.43 360.89,877.43 363.99,883.13 360.89,888.83 354.29,888.83" fill="#FFA040"/>
<rect x="377.92" y="875.95" width="13.2" height="13.2" fill="#808080"/>
<rect x="381.52" y="876.06" width="13.2" height="13.2" fill="#808080"/>
<rect x="375.02" y="876.3" width="13.2" height="13.2" fill="#808080"/>
<polygon points="408.55,869.23 415.55,882.93 401.55,882.93" fill="#0000C0"/>
<polygon points="411.85,872.88 418.85,886.58 404.85,886.58" fill="#0000C0"/>
<polygon points="405.25,876.05 412.25,889.75 398.25,889.75" fill="#0000C0"/>
<polygon points="451.21,798.06 454.31,792.36 460.91,792.36 464.01,798.06 460.91,803.76 454.31,803.76" fill="#FFA040"/>
<polygon points="454.81,799.83 457.91,794.12 464.51,794.12 467.61,799.83 464.51,805.53 457.91,805.53" fill="#FFA040"/>
<polygon points="448.31,801 451.41,795.3 458.01,795.3 461.11,801 458.01,806.7 451.41,806.7" fill="#FFA040"/>
<rect x="475.04" y="741.52" width="13.2" height="13.2" fill="#808080"/>
<rect x="471.74" y="786.17" width="13.2" height="13.2" fill="#808080"/>
<rect x="478.34" y="792.05" width="13.2" height="13.2" fill="#808080"/>
<polygon points="505.67,756.55 512.67,770.25 498.67,770.25" fill="#0000C0"/>
<polygon points="509.27,759.49 516.27,773.19 502.27,773.19" fill="#0000C0"/>
<polygon points="502.77,762.42 509.77,776.12 495.77,776.12" fill="#0000C0"/>
<polygon points="548.33,602.5 551.43,596.8 558.03,596.8 561.13,602.5 558.03,608.2 551.43,608.2" fill="#FFA040"/>
<polygon points="551.93,604.27 555.03,598.57 561.63,598.57 564.73,604.27 561.63,609.97 555.03,609.97" fill="#FFA040"/>
<polygon points="545.43,606.18 548.53,600.48 555.13,600.48 558.23,606.18 555.13,611.88 548.53,611.88" fill="#FFA040"/>
<rect x="572.16" y="598.11" width="13.2" height="13.2" fill="#808080"/>
<rect x="575.76" y="599.58" width="13.2" height="13.2" fill="#808080"/>
<rect x="569.26" y="601.79" width="13.2" height="13.2" fill="#808080"/>
<polygon points="599.48,576.66 606.48,590.36 592.48,590.36" fill="#0000C0"/>
<polygon points="606.08,585.35 613.08,599.05 599.08,599.05" fill="#0000C0"/>
<polygon points="599.48,589.76 606.48,603.46 592.48,603.46" fill="#0000C0"/>
<text class="tk" x="131.1" y="894.6">0</text>
<path d="M133 826.85 H147.1" stroke="#000" stroke-width="3.2"/>
<text class="tk" x="131.1" y="835.85">10</text>
<path d="M133 768.1 H147.1" stroke="#000" stroke-width="3.2"/>
<text class="tk" x="131.1" y="777.1">20</text>
<path d="M133 709.35 H147.1" stroke="#000" stroke-width="3.2"/>
<text class="tk" x="131.1" y="718.35">30</text>
<text class="tk" x="131.1" y="659.6">40</text>
<text class="tk" x="131.1" y="635.8">60</text>
<path d="M133 597.35 H147.1" stroke="#000" stroke-width="3.2"/>
<text class="tk" x="131.1" y="606.35">80</text>
<path d="M133 567.9 H147.1" stroke="#000" stroke-width="3.2"/>
<text class="tk" x="131.1" y="576.9">100</text>
<text class="tt" x="386.3" y="558.5" style="font-size:26.35px">CD8+ T cells</text>
<text class="yl" transform="translate(45.7 726.5) rotate(-90)">% of CD8+CD4-</text>
<text class="yl" transform="translate(74.9 723.5) rotate(-90)">out of EpCam-CD3+ cells</text>
<text class="xl" transform="translate(195.25 911.3) rotate(-30)">HUSOV4</text>
<text class="xl" transform="translate(286.65 914.55) rotate(-30)">HUSOV6</text>
<text class="xl" transform="translate(389.25 911.3) rotate(-30)">HUSOV9</text>
<text class="xl" transform="translate(486.25 911.3) rotate(-30)">HUSOV10</text>
<text class="xl" transform="translate(583.25 911.3) rotate(-30)">HUSOV13</text>
<path d="M262.2 642.9 H309.7" stroke="#6e6e6e" stroke-width="1.3"/>
<text class="st" x="286.65" y="635">****</text>
<path d="M284.8 677.6 H305.3" stroke="#6e6e6e" stroke-width="1.3"/>
<text class="st" x="295.75" y="669.7">**</text>
<path d="M450.4 736.2 H503" stroke="#6e6e6e" stroke-width="1.3"/>
<text class="st" x="477.4" y="728.3">***</text>
<text class="pl" x="8" y="532.5" textLength="27.2" lengthAdjust="spacingAndGlyphs">D</text>
</g>
<g>
<path d="M846.5 879.4 V569.4 H860.8 V879.4" stroke="#FFA040" stroke-width="5" fill="none"/>
<path d="M870.5 879.4 V572.48 H884.8 V879.4" stroke="#808080" stroke-width="5" fill="none"/>
<path d="M877.65 567.67 V572.29 M872.65 567.67 H882.65 M872.65 572.29 H882.65" stroke="#808080" stroke-width="3.3" fill="none"/>
<path d="M894.5 879.4 V578.31 H908.8 V879.4" stroke="#0000C0" stroke-width="5" fill="none"/>
<path d="M901.65 573.14 V578.47 M896.65 573.14 H906.65 M896.65 578.47 H906.65" stroke="#0000C0" stroke-width="3.3" fill="none"/>
<path d="M943.5 879.4 V731.53 H957.8 V879.4" stroke="#FFA040" stroke-width="5" fill="none"/>
<path d="M967.5 879.4 V749.65 H981.8 V879.4" stroke="#808080" stroke-width="5" fill="none"/>
<path d="M974.65 743.29 V751.02 M969.65 743.29 H979.65 M969.65 751.02 H979.65" stroke="#808080" stroke-width="3.3" fill="none"/>
<path d="M991.5 879.4 V590.39 H1005.8 V879.4" stroke="#0000C0" stroke-width="5" fill="none"/>
<path d="M998.65 586.23 V589.54 M993.65 586.23 H1003.65 M993.65 589.54 H1003.65" stroke="#0000C0" stroke-width="3.3" fill="none"/>
<path d="M1040.5 879.4 V751.24 H1054.8 V879.4" stroke="#FFA040" stroke-width="5" fill="none"/>
<path d="M1047.65 742.46 V755.02 M1042.65 742.46 H1052.65 M1042.65 755.02 H1052.65" stroke="#FFA040" stroke-width="3.3" fill="none"/>
<path d="M1064.5 879.4 V749.97 H1078.8 V879.4" stroke="#808080" stroke-width="5" fill="none"/>
<path d="M1071.65 736.76 V758.19 M1066.65 736.76 H1076.65 M1066.65 758.19 H1076.65" stroke="#808080" stroke-width="3.3" fill="none"/>
<path d="M1088.5 879.4 V651.74 H1102.8 V879.4" stroke="#0000C0" stroke-width="5" fill="none"/>
<path d="M1095.65 634.64 V663.84 M1090.65 634.64 H1100.65 M1090.65 663.84 H1100.65" stroke="#0000C0" stroke-width="3.3" fill="none"/>
<path d="M1137.5 879.4 V769.36 H1151.8 V879.4" stroke="#FFA040" stroke-width="5" fill="none"/>
<path d="M1161.5 879.4 V779.11 H1175.8 V879.4" stroke="#808080" stroke-width="5" fill="none"/>
<path d="M1168.65 771.77 V781.46 M1163.65 771.77 H1173.65 M1163.65 781.46 H1173.65" stroke="#808080" stroke-width="3.3" fill="none"/>
<path d="M1185.5 879.4 V703.56 H1199.8 V879.4" stroke="#0000C0" stroke-width="5" fill="none"/>
<path d="M1192.65 696.34 V705.78 M1187.65 696.34 H1197.65 M1187.65 705.78 H1197.65" stroke="#0000C0" stroke-width="3.3" fill="none"/>
<path d="M1234.5 879.4 V642.73 H1248.8 V879.4" stroke="#FFA040" stroke-width="5" fill="none"/>
<path d="M1241.65 636.29 V644.18 M1236.65 636.29 H1246.65 M1236.65 644.18 H1246.65" stroke="#FFA040" stroke-width="3.3" fill="none"/>
<path d="M1258.5 879.4 V649.73 H1272.8 V879.4" stroke="#808080" stroke-width="5" fill="none"/>
<path d="M1265.65 643.84 V650.61 M1260.65 643.84 H1270.65 M1260.65 650.61 H1270.65" stroke="#808080" stroke-width="3.3" fill="none"/>
<path d="M1282.5 879.4 V613.06 H1296.8 V879.4" stroke="#0000C0" stroke-width="5" fill="none"/>
<path d="M1289.65 602.2 V618.93 M1284.65 602.2 H1294.65 M1284.65 618.93 H1294.65" stroke="#0000C0" stroke-width="3.3" fill="none"/>
<path d="M834.5 881 V559.9" stroke="#000" stroke-width="3.2" fill="none"/>
<path d="M820.4 879.4 H1312.9" stroke="#000" stroke-width="3.2"/>
<polygon points="847.25,565.95 850.35,560.25 856.95,560.25 860.05,565.95 856.95,571.65 850.35,571.65" fill="#FFA040"/>
<polygon points="850.85,566.9 853.95,561.2 860.55,561.2 863.65,566.9 860.55,572.6 853.95,572.6" fill="#FFA040"/>
<polygon points="844.35,567.86 847.45,562.16 854.05,562.16 857.15,567.86 854.05,573.56 847.45,573.56" fill="#FFA040"/>
<rect x="871.05" y="559.67" width="13.2" height="13.2" fill="#808080"/>
<rect x="874.65" y="562.85" width="13.2" height="13.2" fill="#808080"/>
<rect x="868.15" y="567.62" width="13.2" height="13.2" fill="#808080"/>
<polygon points="901.65,564.5 908.65,578.2 894.65,578.2" fill="#0000C0"/>
<polygon points="905.25,568.64 912.25,582.34 898.25,582.34" fill="#0000C0"/>
<polygon points="898.75,573.72 905.75,587.42 891.75,587.42" fill="#0000C0"/>
<polygon points="944.25,728.08 947.35,722.38 953.95,722.38 957.05,728.08 953.95,733.78 947.35,733.78" fill="#FFA040"/>
<polygon points="947.85,729.03 950.95,723.33 957.55,723.33 960.65,729.03 957.55,734.73 950.95,734.73" fill="#FFA040"/>
<polygon points="941.35,729.99 944.45,724.29 951.05,724.29 954.15,729.99 951.05,735.69 944.45,735.69" fill="#FFA040"/>
<rect x="964.75" y="734.2" width="13.2" height="13.2" fill="#808080"/>
<rect x="971.35" y="739.92" width="13.2" height="13.2" fill="#808080"/>
<rect x="964.75" y="747.55" width="13.2" height="13.2" fill="#808080"/>
<polygon points="998.65,578.17 1005.65,591.87 991.65,591.87" fill="#0000C0"/>
<polygon points="1002.25,581.04 1009.25,594.74 995.25,594.74" fill="#0000C0"/>
<polygon points="995.75,583.9 1002.75,597.6 988.75,597.6" fill="#0000C0"/>
<polygon points="1041.25,736.35 1044.35,730.64 1050.95,730.64 1054.05,736.35 1050.95,742.05 1044.35,742.05" fill="#FFA040"/>
<polygon points="1037.95,753.19 1041.05,747.49 1047.65,747.49 1050.75,753.19 1047.65,758.89 1041.05,758.89" fill="#FFA040"/>
<polygon points="1044.55,756.69 1047.65,750.99 1054.25,750.99 1057.35,756.69 1054.25,762.39 1047.65,762.39" fill="#FFA040"/>
<rect x="1061.75" y="725.61" width="13.2" height="13.2" fill="#808080"/>
<rect x="1068.35" y="735.47" width="13.2" height="13.2" fill="#808080"/>
<rect x="1065.05" y="761.53" width="13.2" height="13.2" fill="#808080"/>
<polygon points="1092.35,623 1099.35,636.7 1085.35,636.7" fill="#0000C0"/>
<polygon points="1098.95,633.17 1105.95,646.87 1091.95,646.87" fill="#0000C0"/>
<polygon points="1095.65,671 1102.65,684.7 1088.65,684.7" fill="#0000C0"/>
<polygon points="1138.25,764.96 1141.35,759.26 1147.95,759.26 1151.05,764.96 1147.95,770.66 1141.35,770.66" fill="#FFA040"/>
<polygon points="1141.85,766.86 1144.95,761.16 1151.55,761.16 1154.65,766.86 1151.55,772.56 1144.95,772.56" fill="#FFA040"/>
<polygon points="1135.35,768.77 1138.45,763.07 1145.05,763.07 1148.15,768.77 1145.05,774.47 1138.45,774.47" fill="#FFA040"/>
<rect x="1158.75" y="760.9" width="13.2" height="13.2" fill="#808080"/>
<rect x="1165.35" y="771.71" width="13.2" height="13.2" fill="#808080"/>
<rect x="1158.75" y="777.43" width="13.2" height="13.2" fill="#808080"/>
<polygon points="1189.35,687.85 1196.35,701.55 1182.35,701.55" fill="#0000C0"/>
<polygon points="1195.95,691.35 1202.95,705.05 1188.95,705.05" fill="#0000C0"/>
<polygon points="1192.65,703.43 1199.65,717.13 1185.65,717.13" fill="#0000C0"/>
<polygon points="1231.95,633.35 1235.05,627.65 1241.65,627.65 1244.75,633.35 1241.65,639.05 1235.05,639.05" fill="#FFA040"/>
<polygon points="1238.55,640.34 1241.65,634.64 1248.25,634.64 1251.35,640.34 1248.25,646.04 1241.65,646.04" fill="#FFA040"/>
<polygon points="1231.95,647.02 1235.05,641.32 1241.65,641.32 1244.75,647.02 1241.65,652.72 1235.05,652.72" fill="#FFA040"/>
<rect x="1259.05" y="635.65" width="13.2" height="13.2" fill="#808080"/>
<rect x="1262.65" y="639.14" width="13.2" height="13.2" fill="#808080"/>
<rect x="1256.15" y="647.09" width="13.2" height="13.2" fill="#808080"/>
<polygon points="1289.65,587.39 1296.65,601.09 1282.65,601.09" fill="#0000C0"/>
<polygon points="1286.35,608.69 1293.35,622.39 1279.35,622.39" fill="#0000C0"/>
<polygon points="1292.95,615.05 1299.95,628.75 1285.95,628.75" fill="#0000C0"/>
<text class="tk" x="818.5" y="888.4">0</text>
<path d="M820.4 815.82 H834.5" stroke="#000" stroke-width="3.2"/>
<text class="tk" x="818.5" y="824.82">20</text>
<path d="M820.4 752.24 H834.5" stroke="#000" stroke-width="3.2"/>
<text class="tk" x="818.5" y="761.24">40</text>
<path d="M820.4 688.66 H834.5" stroke="#000" stroke-width="3.2"/>
<text class="tk" x="818.5" y="697.66">60</text>
<path d="M820.4 625.08 H834.5" stroke="#000" stroke-width="3.2"/>
<text class="tk" x="818.5" y="634.08">80</text>
<path d="M820.4 561.5 H834.5" stroke="#000" stroke-width="3.2"/>
<text class="tk" x="818.5" y="570.5">100</text>
<text class="tt" x="1072.5" y="521" style="font-size:26.35px">CD8+GrzmB+ T cells</text>
<text class="yl" transform="translate(732.9 720.8) rotate(-90)">% of CD8+GrzmB+</text>
<text class="yl" transform="translate(760.7 716.5) rotate(-90)">out of EpCam-CD3+CD4- cells</text>
<text class="xl" transform="translate(881.95 904.3) rotate(-30)">HUSOV4</text>
<text class="xl" transform="translate(973.35 907.55) rotate(-30)">HUSOV6</text>
<text class="xl" transform="translate(1075.95 904.3) rotate(-30)">HUSOV9</text>
<text class="xl" transform="translate(1172.95 904.3) rotate(-30)">HUSOV10</text>
<text class="xl" transform="translate(1269.95 904.3) rotate(-30)">HUSOV13</text>
<path d="M950.4 552.8 H993.5" stroke="#6e6e6e" stroke-width="1.3"/>
<text class="st" x="972.65" y="544.9">****</text>
<path d="M970.3 581.2 H983.5" stroke="#6e6e6e" stroke-width="1.3"/>
<text class="st" x="977.6" y="573.3">****</text>
<path d="M951.5 713.8 H975.8" stroke="#6e6e6e" stroke-width="1.3"/>
<text class="st" x="964.35" y="705.9">*</text>
<path d="M1044.3 585.2 H1095.8" stroke="#6e6e6e" stroke-width="1.3"/>
<text class="st" x="1070.75" y="577.3">*</text>
<path d="M1069 618.4 H1092.9" stroke="#6e6e6e" stroke-width="1.3"/>
<text class="st" x="1081.65" y="610.5">**</text>
<path d="M1143 655.2 H1193.8" stroke="#6e6e6e" stroke-width="1.3"/>
<text class="st" x="1169.1" y="647.3">****</text>
<path d="M1160.3 689 H1189" stroke="#6e6e6e" stroke-width="1.3"/>
<text class="st" x="1175.35" y="681.1">**</text>
<text class="pl" x="641.5" y="530" textLength="20" lengthAdjust="spacingAndGlyphs">E</text>
</g>
<g>
<path d="M1506.51 880.4 V655.2 H1520.81 V880.4" stroke="#FFA040" stroke-width="5" fill="none"/>
<path d="M1513.66 643.87 V661.54 M1508.66 643.87 H1518.66 M1508.66 661.54 H1518.66" stroke="#FFA040" stroke-width="3.3" fill="none"/>
<path d="M1530.53 880.4 V664.34 H1544.83 V880.4" stroke="#808080" stroke-width="5" fill="none"/>
<path d="M1537.68 658.63 V665.06 M1532.68 658.63 H1542.68 M1532.68 665.06 H1542.68" stroke="#808080" stroke-width="3.3" fill="none"/>
<path d="M1554.56 880.4 V662.75 H1568.86 V880.4" stroke="#0000C0" stroke-width="5" fill="none"/>
<path d="M1561.71 656.87 V663.63 M1556.71 656.87 H1566.71 M1556.71 663.63 H1566.71" stroke="#0000C0" stroke-width="3.3" fill="none"/>
<path d="M1603.61 880.4 V735.87 H1617.91 V880.4" stroke="#FFA040" stroke-width="5" fill="none"/>
<path d="M1610.76 727.37 V739.37 M1605.76 727.37 H1615.76 M1605.76 739.37 H1615.76" stroke="#FFA040" stroke-width="3.3" fill="none"/>
<path d="M1627.63 880.4 V749.25 H1641.93 V880.4" stroke="#808080" stroke-width="5" fill="none"/>
<path d="M1634.78 743.3 V750.2 M1629.78 743.3 H1639.78 M1629.78 750.2 H1639.78" stroke="#808080" stroke-width="3.3" fill="none"/>
<path d="M1651.65 880.4 V616.66 H1665.95 V880.4" stroke="#0000C0" stroke-width="5" fill="none"/>
<path d="M1658.8 609.35 V618.97 M1653.8 609.35 H1663.8 M1653.8 618.97 H1663.8" stroke="#0000C0" stroke-width="3.3" fill="none"/>
<path d="M1700.7 880.4 V656.4 H1715 V880.4" stroke="#FFA040" stroke-width="5" fill="none"/>
<path d="M1707.85 637.56 V670.23 M1702.85 637.56 H1712.85 M1702.85 670.23 H1712.85" stroke="#FFA040" stroke-width="3.3" fill="none"/>
<path d="M1724.73 880.4 V640.9 H1739.03 V880.4" stroke="#808080" stroke-width="5" fill="none"/>
<path d="M1731.88 620.34 V656.46 M1726.88 620.34 H1736.88 M1726.88 656.46 H1736.88" stroke="#808080" stroke-width="3.3" fill="none"/>
<path d="M1748.75 880.4 V723.16 H1763.05 V880.4" stroke="#0000C0" stroke-width="5" fill="none"/>
<path d="M1755.9 695.63 V745.68 M1750.9 695.63 H1760.9 M1750.9 745.68 H1760.9" stroke="#0000C0" stroke-width="3.3" fill="none"/>
<path d="M1797.8 880.4 V740.24 H1812.1 V880.4" stroke="#FFA040" stroke-width="5" fill="none"/>
<path d="M1804.95 735.22 V740.27 M1799.95 735.22 H1809.95 M1799.95 740.27 H1809.95" stroke="#FFA040" stroke-width="3.3" fill="none"/>
<path d="M1821.82 880.4 V756.14 H1836.12 V880.4" stroke="#808080" stroke-width="5" fill="none"/>
<path d="M1828.97 751.45 V755.83 M1823.97 751.45 H1833.97 M1823.97 755.83 H1833.97" stroke="#808080" stroke-width="3.3" fill="none"/>
<path d="M1845.85 880.4 V726.73 H1860.15 V880.4" stroke="#0000C0" stroke-width="5" fill="none"/>
<path d="M1853 718.63 V729.84 M1848 718.63 H1858 M1848 729.84 H1858" stroke="#0000C0" stroke-width="3.3" fill="none"/>
<path d="M1894.9 880.4 V648.71 H1909.2 V880.4" stroke="#FFA040" stroke-width="5" fill="none"/>
<path d="M1902.05 635.71 V656.72 M1897.05 635.71 H1907.05 M1897.05 656.72 H1907.05" stroke="#FFA040" stroke-width="3.3" fill="none"/>
<path d="M1918.92 880.4 V637.72 H1933.22 V880.4" stroke="#808080" stroke-width="5" fill="none"/>
<path d="M1926.07 627.94 V642.5 M1921.07 627.94 H1931.07 M1921.07 642.5 H1931.07" stroke="#808080" stroke-width="3.3" fill="none"/>
<path d="M1942.95 880.4 V645.93 H1957.25 V880.4" stroke="#0000C0" stroke-width="5" fill="none"/>
<path d="M1950.1 635.06 V651.81 M1945.1 635.06 H1955.1 M1945.1 651.81 H1955.1" stroke="#0000C0" stroke-width="3.3" fill="none"/>
<path d="M1494.5 882 V560.9" stroke="#000" stroke-width="3.2" fill="none"/>
<path d="M1480.4 880.4 H1973.38" stroke="#000" stroke-width="3.2"/>
<polygon points="1507.26,637.21 1510.36,631.51 1516.96,631.51 1520.06,637.21 1516.96,642.91 1510.36,642.91" fill="#FFA040"/>
<polygon points="1507.26,653.1 1510.36,647.4 1516.96,647.4 1520.06,653.1 1516.96,658.8 1510.36,658.8" fill="#FFA040"/>
<polygon points="1507.26,667.8 1510.36,662.1 1516.96,662.1 1520.06,667.8 1516.96,673.5 1510.36,673.5" fill="#FFA040"/>
<rect x="1531.08" y="649.68" width="13.2" height="13.2" fill="#808080"/>
<rect x="1534.68" y="655.24" width="13.2" height="13.2" fill="#808080"/>
<rect x="1528.18" y="660.81" width="13.2" height="13.2" fill="#808080"/>
<polygon points="1558.41,648.24 1565.41,661.94 1551.41,661.94" fill="#0000C0"/>
<polygon points="1565.01,652.21 1572.01,665.91 1558.01,665.91" fill="#0000C0"/>
<polygon points="1558.41,659.76 1565.41,673.46 1551.41,673.46" fill="#0000C0"/>
<polygon points="1604.36,721.45 1607.46,715.75 1614.06,715.75 1617.16,721.45 1614.06,727.15 1607.46,727.15" fill="#FFA040"/>
<polygon points="1601.06,738.14 1604.16,732.44 1610.76,732.44 1613.86,738.14 1610.76,743.84 1604.16,743.84" fill="#FFA040"/>
<polygon points="1607.66,740.52 1610.76,734.82 1617.36,734.82 1620.46,740.52 1617.36,746.22 1610.76,746.22" fill="#FFA040"/>
<rect x="1624.88" y="733.92" width="13.2" height="13.2" fill="#808080"/>
<rect x="1631.48" y="740.68" width="13.2" height="13.2" fill="#808080"/>
<rect x="1624.88" y="745.85" width="13.2" height="13.2" fill="#808080"/>
<polygon points="1655.5,598.17 1662.5,611.87 1648.5,611.87" fill="#0000C0"/>
<polygon points="1662.1,609.3 1669.1,623 1655.1,623" fill="#0000C0"/>
<polygon points="1655.5,614.46 1662.5,628.16 1648.5,628.16" fill="#0000C0"/>
<polygon points="1701.45,621.31 1704.55,615.61 1711.15,615.61 1714.25,621.31 1711.15,627.01 1704.55,627.01" fill="#FFA040"/>
<polygon points="1698.15,668.2 1701.25,662.5 1707.85,662.5 1710.95,668.2 1707.85,673.9 1701.25,673.9" fill="#FFA040"/>
<polygon points="1704.75,672.18 1707.85,666.48 1714.45,666.48 1717.55,672.18 1714.45,677.88 1707.85,677.88" fill="#FFA040"/>
<rect x="1725.28" y="599.21" width="13.2" height="13.2" fill="#808080"/>
<rect x="1725.28" y="634.58" width="13.2" height="13.2" fill="#808080"/>
<rect x="1725.28" y="661.6" width="13.2" height="13.2" fill="#808080"/>
<polygon points="1755.9,668.11 1762.9,681.81 1748.9,681.81" fill="#0000C0"/>
<polygon points="1755.9,718.97 1762.9,732.67 1748.9,732.67" fill="#0000C0"/>
<polygon points="1755.9,754.34 1762.9,768.04 1748.9,768.04" fill="#0000C0"/>
<polygon points="1798.55,733.37 1801.65,727.67 1808.25,727.67 1811.35,733.37 1808.25,739.07 1801.65,739.07" fill="#FFA040"/>
<polygon points="1802.15,737.74 1805.25,732.04 1811.85,732.04 1814.95,737.74 1811.85,743.44 1805.25,743.44" fill="#FFA040"/>
<polygon points="1795.65,742.11 1798.75,736.41 1805.35,736.41 1808.45,742.11 1805.35,747.81 1798.75,747.81" fill="#FFA040"/>
<rect x="1822.37" y="743.46" width="13.2" height="13.2" fill="#808080"/>
<rect x="1825.97" y="746.64" width="13.2" height="13.2" fill="#808080"/>
<rect x="1819.47" y="751.01" width="13.2" height="13.2" fill="#808080"/>
<polygon points="1849.7,710.63 1856.7,724.33 1842.7,724.33" fill="#0000C0"/>
<polygon points="1856.3,713.01 1863.3,726.71 1849.3,726.71" fill="#0000C0"/>
<polygon points="1853,728.51 1860,742.21 1846,742.21" fill="#0000C0"/>
<polygon points="1895.65,625.29 1898.75,619.59 1905.35,619.59 1908.45,625.29 1905.35,630.99 1898.75,630.99" fill="#FFA040"/>
<polygon points="1892.35,655.09 1895.45,649.39 1902.05,649.39 1905.15,655.09 1902.05,660.79 1895.45,660.79" fill="#FFA040"/>
<polygon points="1898.95,658.27 1902.05,652.57 1908.65,652.57 1911.75,658.27 1908.65,663.97 1902.05,663.97" fill="#FFA040"/>
<rect x="1919.47" y="614.31" width="13.2" height="13.2" fill="#808080"/>
<rect x="1916.17" y="633.39" width="13.2" height="13.2" fill="#808080"/>
<rect x="1922.77" y="638.16" width="13.2" height="13.2" fill="#808080"/>
<polygon points="1950.1,620.02 1957.1,633.72 1943.1,633.72" fill="#0000C0"/>
<polygon points="1946.8,642.68 1953.8,656.38 1939.8,656.38" fill="#0000C0"/>
<polygon points="1953.4,647.05 1960.4,660.75 1946.4,660.75" fill="#0000C0"/>
<text class="tk" x="1478.5" y="889.4">0</text>
<path d="M1480.4 800.92 H1494.5" stroke="#000" stroke-width="3.2"/>
<text class="tk" x="1478.5" y="809.92">20</text>
<path d="M1480.4 721.45 H1494.5" stroke="#000" stroke-width="3.2"/>
<text class="tk" x="1478.5" y="730.45">40</text>
<path d="M1480.4 641.98 H1494.5" stroke="#000" stroke-width="3.2"/>
<text class="tk" x="1478.5" y="650.98">60</text>
<path d="M1480.4 562.5 H1494.5" stroke="#000" stroke-width="3.2"/>
<text class="tk" x="1478.5" y="571.5">80</text>
<text class="tt" x="1732.5" y="530" style="font-size:26.35px">CD8+PD-1+ T cells</text>
<text class="yl" transform="translate(1406.4 721.1) rotate(-90)">% of CD8+PD-1+</text>
<text class="yl" transform="translate(1434.9 717.6) rotate(-90)">out of EpCam-CD3+CD4- cells</text>
<text class="xl" transform="translate(1541.95 905.3) rotate(-30)">HUSOV4</text>
<text class="xl" transform="translate(1633.35 908.55) rotate(-30)">HUSOV6</text>
<text class="xl" transform="translate(1735.95 905.3) rotate(-30)">HUSOV9</text>
<text class="xl" transform="translate(1832.95 905.3) rotate(-30)">HUSOV10</text>
<text class="xl" transform="translate(1929.95 905.3) rotate(-30)">HUSOV13</text>
<path d="M1612.5 565.1 H1654.5" stroke="#6e6e6e" stroke-width="1.3"/>
<text class="st" x="1634.2" y="557.2">***</text>
<path d="M1624.9 599.6 H1649.6" stroke="#6e6e6e" stroke-width="1.3"/>
<text class="st" x="1637.95" y="591.7">****</text>
<path d="M1825.8 684 H1851.2" stroke="#6e6e6e" stroke-width="1.3"/>
<text class="st" x="1839.2" y="676.1">*</text>
<path d="M1803 719.3 H1829.8" stroke="#6e6e6e" stroke-width="1.3"/>
<text class="st" x="1817.1" y="711.4">*</text>
<text class="pl" x="1351.5" y="525" textLength="19.5" lengthAdjust="spacingAndGlyphs">F</text>
</g>
<g>
<path d="M155.13 1377.4 V1208.84 H169.43 V1377.4" stroke="#FFA040" stroke-width="5" fill="none"/>
<path d="M162.28 1182.47 V1230.21 M157.28 1182.47 H167.28 M157.28 1230.21 H167.28" stroke="#FFA040" stroke-width="3.3" fill="none"/>
<path d="M179.19 1377.4 V1164.43 H193.49 V1377.4" stroke="#808080" stroke-width="5" fill="none"/>
<path d="M186.34 1159.02 V1164.84 M181.34 1159.02 H191.34 M181.34 1164.84 H191.34" stroke="#808080" stroke-width="3.3" fill="none"/>
<path d="M203.26 1377.4 V1186.89 H217.56 V1377.4" stroke="#0000C0" stroke-width="5" fill="none"/>
<path d="M210.41 1124.52 V1244.26 M205.41 1124.52 H215.41 M205.41 1244.26 H215.41" stroke="#0000C0" stroke-width="3.3" fill="none"/>
<path d="M252.4 1377.4 V1372.08 H266.7 V1377.4" stroke="#FFA040" stroke-width="5" fill="none"/>
<path d="M276.47 1377.4 V1369.81 H290.77 V1377.4" stroke="#808080" stroke-width="5" fill="none"/>
<path d="M300.53 1377.4 V1368.29 H314.83 V1377.4" stroke="#0000C0" stroke-width="5" fill="none"/>
<path d="M307.68 1364.26 V1367.33 M302.68 1364.26 H312.68 M302.68 1367.33 H312.68" stroke="#0000C0" stroke-width="3.3" fill="none"/>
<path d="M349.67 1377.4 V1331.46 H363.97 V1377.4" stroke="#FFA040" stroke-width="5" fill="none"/>
<path d="M356.82 1320.94 V1336.98 M351.82 1320.94 H361.82 M351.82 1336.98 H361.82" stroke="#FFA040" stroke-width="3.3" fill="none"/>
<path d="M373.74 1377.4 V1310.26 H388.04 V1377.4" stroke="#808080" stroke-width="5" fill="none"/>
<path d="M380.89 1279.73 V1335.8 M375.89 1279.73 H385.89 M375.89 1335.8 H385.89" stroke="#808080" stroke-width="3.3" fill="none"/>
<path d="M397.8 1377.4 V1320.86 H412.1 V1377.4" stroke="#0000C0" stroke-width="5" fill="none"/>
<path d="M404.95 1309.75 V1326.97 M399.95 1309.75 H409.95 M399.95 1326.97 H409.95" stroke="#0000C0" stroke-width="3.3" fill="none"/>
<path d="M446.94 1377.4 V1362.24 H461.24 V1377.4" stroke="#FFA040" stroke-width="5" fill="none"/>
<path d="M454.09 1357.5 V1361.98 M449.09 1357.5 H459.09 M449.09 1361.98 H459.09" stroke="#FFA040" stroke-width="3.3" fill="none"/>
<path d="M471.01 1377.4 V1364.01 H485.31 V1377.4" stroke="#808080" stroke-width="5" fill="none"/>
<path d="M478.16 1359.5 V1363.51 M473.16 1359.5 H483.16 M473.16 1363.51 H483.16" stroke="#808080" stroke-width="3.3" fill="none"/>
<path d="M495.08 1377.4 V1344.83 H509.38 V1377.4" stroke="#0000C0" stroke-width="5" fill="none"/>
<path d="M502.23 1338.99 V1345.67 M497.23 1338.99 H507.23 M497.23 1345.67 H507.23" stroke="#0000C0" stroke-width="3.3" fill="none"/>
<path d="M544.21 1377.4 V1372.15 H558.51 V1377.4" stroke="#FFA040" stroke-width="5" fill="none"/>
<path d="M551.36 1367.44 V1371.87 M546.36 1367.44 H556.36 M546.36 1371.87 H556.36" stroke="#FFA040" stroke-width="3.3" fill="none"/>
<rect x="565.78" y="1372.45" width="19.3" height="4.95" fill="#808080"/>
<path d="M592.35 1377.4 V1370.36 H606.65 V1377.4" stroke="#0000C0" stroke-width="5" fill="none"/>
<path d="M599.5 1365.86 V1369.87 M594.5 1365.86 H604.5 M594.5 1369.87 H604.5" stroke="#0000C0" stroke-width="3.3" fill="none"/>
<path d="M143.1 1379 V1057.9" stroke="#000" stroke-width="3.2" fill="none"/>
<path d="M129 1377.4 H622.84" stroke="#000" stroke-width="3.2"/>
<polygon points="155.88,1158.65 158.98,1152.95 165.58,1152.95 168.68,1158.65 165.58,1164.35 158.98,1164.35" fill="#FFA040"/>
<polygon points="152.58,1228.29 155.68,1222.59 162.28,1222.59 165.38,1228.29 162.28,1233.99 155.68,1233.99" fill="#FFA040"/>
<polygon points="159.18,1232.07 162.28,1226.37 168.88,1226.37 171.98,1232.07 168.88,1237.77 162.28,1237.77" fill="#FFA040"/>
<rect x="179.74" y="1149.78" width="13.2" height="13.2" fill="#808080"/>
<rect x="183.34" y="1156.6" width="13.2" height="13.2" fill="#808080"/>
<rect x="176.84" y="1159.62" width="13.2" height="13.2" fill="#808080"/>
<polygon points="210.41,1057.95 217.41,1071.65 203.41,1071.65" fill="#0000C0"/>
<polygon points="213.71,1232.04 220.71,1245.74 206.71,1245.74" fill="#0000C0"/>
<polygon points="207.11,1242.63 214.11,1256.33 200.11,1256.33" fill="#0000C0"/>
<polygon points="253.15,1368.32 256.25,1362.62 262.85,1362.62 265.95,1368.32 262.85,1374.02 256.25,1374.02" fill="#FFA040"/>
<polygon points="256.75,1369.83 259.85,1364.13 266.45,1364.13 269.55,1369.83 266.45,1375.53 259.85,1375.53" fill="#FFA040"/>
<polygon points="250.25,1370.59 253.35,1364.89 259.95,1364.89 263.05,1370.59 259.95,1376.29 253.35,1376.29" fill="#FFA040"/>
<rect x="277.02" y="1359.45" width="13.2" height="13.2" fill="#808080"/>
<rect x="280.62" y="1360.96" width="13.2" height="13.2" fill="#808080"/>
<rect x="274.12" y="1361.72" width="13.2" height="13.2" fill="#808080"/>
<polygon points="307.68,1356.17 314.68,1369.87 300.68,1369.87" fill="#0000C0"/>
<polygon points="311.28,1359.2 318.28,1372.9 304.28,1372.9" fill="#0000C0"/>
<polygon points="304.78,1361.47 311.78,1375.17 297.78,1375.17" fill="#0000C0"/>
<polygon points="350.42,1313.06 353.52,1307.36 360.12,1307.36 363.22,1313.06 360.12,1318.76 353.52,1318.76" fill="#FFA040"/>
<polygon points="347.12,1335.01 350.22,1329.31 356.82,1329.31 359.92,1335.01 356.82,1340.71 350.22,1340.71" fill="#FFA040"/>
<polygon points="353.72,1338.8 356.82,1333.1 363.42,1333.1 366.52,1338.8 363.42,1344.5 356.82,1344.5" fill="#FFA040"/>
<rect x="374.29" y="1245.15" width="13.2" height="13.2" fill="#808080"/>
<rect x="370.99" y="1326.9" width="13.2" height="13.2" fill="#808080"/>
<rect x="377.59" y="1331.44" width="13.2" height="13.2" fill="#808080"/>
<polygon points="404.95,1294.86 411.95,1308.56 397.95,1308.56" fill="#0000C0"/>
<polygon points="401.65,1316.05 408.65,1329.75 394.65,1329.75" fill="#0000C0"/>
<polygon points="408.25,1323.62 415.25,1337.32 401.25,1337.32" fill="#0000C0"/>
<polygon points="447.69,1355.45 450.79,1349.75 457.39,1349.75 460.49,1355.45 457.39,1361.15 450.79,1361.15" fill="#FFA040"/>
<polygon points="451.29,1360.75 454.39,1355.05 460.99,1355.05 464.09,1360.75 460.99,1366.45 454.39,1366.45" fill="#FFA040"/>
<polygon points="444.79,1363.02 447.89,1357.32 454.49,1357.32 457.59,1363.02 454.49,1368.72 447.89,1368.72" fill="#FFA040"/>
<rect x="471.56" y="1351.12" width="13.2" height="13.2" fill="#808080"/>
<rect x="475.16" y="1355.66" width="13.2" height="13.2" fill="#808080"/>
<rect x="468.66" y="1357.93" width="13.2" height="13.2" fill="#808080"/>
<polygon points="502.23,1330.43 509.23,1344.13 495.23,1344.13" fill="#0000C0"/>
<polygon points="505.83,1334.22 512.83,1347.92 498.83,1347.92" fill="#0000C0"/>
<polygon points="499.33,1341.79 506.33,1355.49 492.33,1355.49" fill="#0000C0"/>
<polygon points="544.96,1365.67 548.06,1359.97 554.66,1359.97 557.76,1365.67 554.66,1371.37 548.06,1371.37" fill="#FFA040"/>
<polygon points="548.56,1369.98 551.66,1364.28 558.26,1364.28 561.36,1369.98 558.26,1375.68 551.66,1375.68" fill="#FFA040"/>
<polygon points="542.06,1373.31 545.16,1367.61 551.76,1367.61 554.86,1373.31 551.76,1379.01 545.16,1379.01" fill="#FFA040"/>
<rect x="568.83" y="1363.99" width="13.2" height="13.2" fill="#808080"/>
<rect x="572.43" y="1366.03" width="13.2" height="13.2" fill="#808080"/>
<rect x="565.93" y="1367.55" width="13.2" height="13.2" fill="#808080"/>
<polygon points="599.5,1357.23 606.5,1370.93 592.5,1370.93" fill="#0000C0"/>
<polygon points="603.1,1361.77 610.1,1375.47 596.1,1375.47" fill="#0000C0"/>
<polygon points="596.6,1364.04 603.6,1377.74 589.6,1377.74" fill="#0000C0"/>
<text class="tk" x="127.1" y="1386.4">0</text>
<path d="M129 1331.99 H143.1" stroke="#000" stroke-width="3.2"/>
<text class="tk" x="127.1" y="1340.99">6</text>
<path d="M129 1286.57 H143.1" stroke="#000" stroke-width="3.2"/>
<text class="tk" x="127.1" y="1295.57">12</text>
<path d="M129 1241.16 H143.1" stroke="#000" stroke-width="3.2"/>
<text class="tk" x="127.1" y="1250.16">18</text>
<path d="M129 1195.74 H143.1" stroke="#000" stroke-width="3.2"/>
<text class="tk" x="127.1" y="1204.74">24</text>
<path d="M129 1150.33 H143.1" stroke="#000" stroke-width="3.2"/>
<text class="tk" x="127.1" y="1159.33">30</text>
<path d="M129 1104.91 H143.1" stroke="#000" stroke-width="3.2"/>
<text class="tk" x="127.1" y="1113.91">36</text>
<path d="M129 1059.5 H143.1" stroke="#000" stroke-width="3.2"/>
<text class="tk" x="127.1" y="1068.5">42</text>
<text class="tt" x="382.5" y="1049" style="font-size:26px">CD56+ cells</text>
<text class="yl" transform="translate(55.7 1218.8) rotate(-90)">% of CD56+</text>
<text class="yl" transform="translate(84.2 1215) rotate(-90)">out of EpCam-CD3- cells</text>
<text class="xl" transform="translate(191.55 1403.5) rotate(-30)">HUSOV4</text>
<text class="xl" transform="translate(282.95 1406.75) rotate(-30)">HUSOV6</text>
<text class="xl" transform="translate(385.55 1403.5) rotate(-30)">HUSOV9</text>
<text class="xl" transform="translate(482.55 1403.5) rotate(-30)">HUSOV10</text>
<text class="xl" transform="translate(579.55 1403.5) rotate(-30)">HUSOV13</text>
<path d="M450 1303.5 H499.5" stroke="#6e6e6e" stroke-width="1.3"/>
<text class="st" x="475.45" y="1295.6">*</text>
<path d="M474.1 1337 H495.7" stroke="#6e6e6e" stroke-width="1.3"/>
<text class="st" x="485.6" y="1329.1">*</text>
<text class="pl" x="100.8" y="1033" textLength="29.6" lengthAdjust="spacingAndGlyphs">G</text>
</g>
<g>
<path d="M836.05 1378.3 V1090.83 H850.35 V1378.3" stroke="#FFA040" stroke-width="5" fill="none"/>
<path d="M843.2 1085.84 V1090.81 M838.2 1085.84 H848.2 M838.2 1090.81 H848.2" stroke="#FFA040" stroke-width="3.3" fill="none"/>
<path d="M860.05 1378.3 V1079.16 H874.35 V1378.3" stroke="#808080" stroke-width="5" fill="none"/>
<path d="M884.05 1378.3 V1087.96 H898.35 V1378.3" stroke="#0000C0" stroke-width="5" fill="none"/>
<path d="M891.2 1078.52 V1092.41 M886.2 1078.52 H896.2 M886.2 1092.41 H896.2" stroke="#0000C0" stroke-width="3.3" fill="none"/>
<path d="M933.05 1378.3 V1325.42 H947.35 V1378.3" stroke="#FFA040" stroke-width="5" fill="none"/>
<path d="M940.2 1309.5 V1336.33 M935.2 1309.5 H945.2 M935.2 1336.33 H945.2" stroke="#FFA040" stroke-width="3.3" fill="none"/>
<path d="M957.05 1378.3 V1326.9 H971.35 V1378.3" stroke="#808080" stroke-width="5" fill="none"/>
<path d="M964.2 1316.97 V1331.83 M959.2 1316.97 H969.2 M959.2 1331.83 H969.2" stroke="#808080" stroke-width="3.3" fill="none"/>
<path d="M981.05 1378.3 V1193.32 H995.35 V1378.3" stroke="#0000C0" stroke-width="5" fill="none"/>
<path d="M988.2 1179.78 V1201.87 M983.2 1179.78 H993.2 M983.2 1201.87 H993.2" stroke="#0000C0" stroke-width="3.3" fill="none"/>
<path d="M1030.05 1378.3 V1337.62 H1044.35 V1378.3" stroke="#FFA040" stroke-width="5" fill="none"/>
<path d="M1054.05 1378.3 V1351.09 H1068.35 V1378.3" stroke="#808080" stroke-width="5" fill="none"/>
<path d="M1061.2 1345.1 V1352.09 M1056.2 1345.1 H1066.2 M1056.2 1352.09 H1066.2" stroke="#808080" stroke-width="3.3" fill="none"/>
<path d="M1078.05 1378.3 V1290.51 H1092.35 V1378.3" stroke="#0000C0" stroke-width="5" fill="none"/>
<path d="M1085.2 1273.94 V1302.08 M1080.2 1273.94 H1090.2 M1080.2 1302.08 H1090.2" stroke="#0000C0" stroke-width="3.3" fill="none"/>
<path d="M1127.05 1378.3 V1348.02 H1141.35 V1378.3" stroke="#FFA040" stroke-width="5" fill="none"/>
<path d="M1134.2 1341.36 V1349.67 M1129.2 1341.36 H1139.2 M1129.2 1349.67 H1139.2" stroke="#FFA040" stroke-width="3.3" fill="none"/>
<path d="M1151.05 1378.3 V1334.12 H1165.35 V1378.3" stroke="#808080" stroke-width="5" fill="none"/>
<path d="M1158.2 1324.83 V1338.4 M1153.2 1324.83 H1163.2 M1153.2 1338.4 H1163.2" stroke="#808080" stroke-width="3.3" fill="none"/>
<path d="M1175.05 1378.3 V1271.62 H1189.35 V1378.3" stroke="#0000C0" stroke-width="5" fill="none"/>
<path d="M1182.2 1257.16 V1281.09 M1177.2 1257.16 H1187.2 M1177.2 1281.09 H1187.2" stroke="#0000C0" stroke-width="3.3" fill="none"/>
<path d="M1224.05 1378.3 V1225.15 H1238.35 V1378.3" stroke="#FFA040" stroke-width="5" fill="none"/>
<path d="M1231.2 1206 V1239.3 M1226.2 1206 H1236.2 M1226.2 1239.3 H1236.2" stroke="#FFA040" stroke-width="3.3" fill="none"/>
<path d="M1248.05 1378.3 V1263.45 H1262.35 V1378.3" stroke="#808080" stroke-width="5" fill="none"/>
<path d="M1255.2 1222.7 V1299.2 M1250.2 1222.7 H1260.2 M1250.2 1299.2 H1260.2" stroke="#808080" stroke-width="3.3" fill="none"/>
<path d="M1272.05 1378.3 V1161.39 H1286.35 V1378.3" stroke="#0000C0" stroke-width="5" fill="none"/>
<path d="M1279.2 1148.26 V1169.51 M1274.2 1148.26 H1284.2 M1274.2 1169.51 H1284.2" stroke="#0000C0" stroke-width="3.3" fill="none"/>
<path d="M824.05 1379.9 V1058.4" stroke="#000" stroke-width="3.2" fill="none"/>
<path d="M809.95 1378.3 H1302.45" stroke="#000" stroke-width="3.2"/>
<polygon points="836.8,1083.87 839.9,1078.17 846.5,1078.17 849.6,1083.87 846.5,1089.57 839.9,1089.57" fill="#FFA040"/>
<polygon points="840.4,1088.65 843.5,1082.95 850.1,1082.95 853.2,1088.65 850.1,1094.35 843.5,1094.35" fill="#FFA040"/>
<polygon points="833.9,1092.47 837,1086.77 843.6,1086.77 846.7,1092.47 843.6,1098.17 837,1098.17" fill="#FFA040"/>
<rect x="860.6" y="1068.68" width="13.2" height="13.2" fill="#808080"/>
<rect x="864.2" y="1069.95" width="13.2" height="13.2" fill="#808080"/>
<rect x="857.7" y="1071.54" width="13.2" height="13.2" fill="#808080"/>
<polygon points="891.2,1064.93 898.2,1078.63 884.2,1078.63" fill="#0000C0"/>
<polygon points="887.9,1083.39 894.9,1097.09 880.9,1097.09" fill="#0000C0"/>
<polygon points="894.5,1087.53 901.5,1101.23 887.5,1101.23" fill="#0000C0"/>
<polygon points="933.8,1296.18 936.9,1290.48 943.5,1290.48 946.6,1296.18 943.5,1301.88 936.9,1301.88" fill="#FFA040"/>
<polygon points="930.5,1334.37 933.6,1328.67 940.2,1328.67 943.3,1334.37 940.2,1340.07 933.6,1340.07" fill="#FFA040"/>
<polygon points="937.1,1338.19 940.2,1332.49 946.8,1332.49 949.9,1338.19 946.8,1343.89 940.2,1343.89" fill="#FFA040"/>
<rect x="954.3" y="1306.13" width="13.2" height="13.2" fill="#808080"/>
<rect x="960.9" y="1315.68" width="13.2" height="13.2" fill="#808080"/>
<rect x="957.6" y="1331.59" width="13.2" height="13.2" fill="#808080"/>
<polygon points="984.9,1170.92 991.9,1184.62 977.9,1184.62" fill="#0000C0"/>
<polygon points="991.5,1175.06 998.5,1188.76 984.5,1188.76" fill="#0000C0"/>
<polygon points="988.2,1205.93 995.2,1219.63 981.2,1219.63" fill="#0000C0"/>
<polygon points="1030.8,1332.78 1033.9,1327.08 1040.5,1327.08 1043.6,1332.78 1040.5,1338.48 1033.9,1338.48" fill="#FFA040"/>
<polygon points="1034.4,1335.33 1037.5,1329.63 1044.1,1329.63 1047.2,1335.33 1044.1,1341.03 1037.5,1341.03" fill="#FFA040"/>
<polygon points="1027.9,1337.24 1031,1331.54 1037.6,1331.54 1040.7,1337.24 1037.6,1342.94 1031,1342.94" fill="#FFA040"/>
<rect x="1051.3" y="1336.05" width="13.2" height="13.2" fill="#808080"/>
<rect x="1057.9" y="1341.78" width="13.2" height="13.2" fill="#808080"/>
<rect x="1051.3" y="1348.15" width="13.2" height="13.2" fill="#808080"/>
<polygon points="1085.2,1253.36 1092.2,1267.06 1078.2,1267.06" fill="#0000C0"/>
<polygon points="1081.9,1291.24 1088.9,1304.94 1074.9,1304.94" fill="#0000C0"/>
<polygon points="1088.5,1298.88 1095.5,1312.58 1081.5,1312.58" fill="#0000C0"/>
<polygon points="1124.5,1337.56 1127.6,1331.86 1134.2,1331.86 1137.3,1337.56 1134.2,1343.26 1127.6,1343.26" fill="#FFA040"/>
<polygon points="1131.1,1347.42 1134.2,1341.72 1140.8,1341.72 1143.9,1347.42 1140.8,1353.12 1134.2,1353.12" fill="#FFA040"/>
<polygon points="1124.5,1351.56 1127.6,1345.86 1134.2,1345.86 1137.3,1351.56 1134.2,1357.26 1127.6,1357.26" fill="#FFA040"/>
<rect x="1151.6" y="1311.86" width="13.2" height="13.2" fill="#808080"/>
<rect x="1148.3" y="1328.73" width="13.2" height="13.2" fill="#808080"/>
<rect x="1154.9" y="1334.46" width="13.2" height="13.2" fill="#808080"/>
<polygon points="1182.2,1239.04 1189.2,1252.74 1175.2,1252.74" fill="#0000C0"/>
<polygon points="1178.9,1268.96 1185.9,1282.66 1171.9,1282.66" fill="#0000C0"/>
<polygon points="1185.5,1278.82 1192.5,1292.52 1178.5,1292.52" fill="#0000C0"/>
<polygon points="1224.8,1195.91 1227.9,1190.21 1234.5,1190.21 1237.6,1195.91 1234.5,1201.61 1227.9,1201.61" fill="#FFA040"/>
<polygon points="1224.8,1218.83 1227.9,1213.13 1234.5,1213.13 1237.6,1218.83 1234.5,1224.53 1227.9,1224.53" fill="#FFA040"/>
<polygon points="1224.8,1253.21 1227.9,1247.51 1234.5,1247.51 1237.6,1253.21 1234.5,1258.91 1227.9,1258.91" fill="#FFA040"/>
<rect x="1248.6" y="1186.77" width="13.2" height="13.2" fill="#808080"/>
<rect x="1248.6" y="1257.11" width="13.2" height="13.2" fill="#808080"/>
<rect x="1248.6" y="1319.18" width="13.2" height="13.2" fill="#808080"/>
<polygon points="1275.9,1136.86 1282.9,1150.56 1268.9,1150.56" fill="#0000C0"/>
<polygon points="1282.5,1146.73 1289.5,1160.43 1275.5,1160.43" fill="#0000C0"/>
<polygon points="1279.2,1172.51 1286.2,1186.21 1272.2,1186.21" fill="#0000C0"/>
<text class="tk" x="808.05" y="1387.3">0</text>
<path d="M809.95 1314.64 H824.05" stroke="#000" stroke-width="3.2"/>
<text class="tk" x="808.05" y="1323.64">20</text>
<path d="M809.95 1250.98 H824.05" stroke="#000" stroke-width="3.2"/>
<text class="tk" x="808.05" y="1259.98">40</text>
<path d="M809.95 1187.32 H824.05" stroke="#000" stroke-width="3.2"/>
<text class="tk" x="808.05" y="1196.32">60</text>
<path d="M809.95 1123.66 H824.05" stroke="#000" stroke-width="3.2"/>
<text class="tk" x="808.05" y="1132.66">80</text>
<path d="M809.95 1060 H824.05" stroke="#000" stroke-width="3.2"/>
<text class="tk" x="808.05" y="1069">100</text>
<text class="tt" x="1061.8" y="1051.5" style="font-size:26px">CD56+GrzmB+ cells</text>
<text class="yl" transform="translate(722.2 1220) rotate(-90)">% of CD56+GrzmB+</text>
<text class="yl" transform="translate(749.7 1215.3) rotate(-90)">out of EpCam-CD3- cells</text>
<text class="xl" transform="translate(871.5 1403.2) rotate(-30)">HUSOV4</text>
<text class="xl" transform="translate(962.9 1406.45) rotate(-30)">HUSOV6</text>
<text class="xl" transform="translate(1065.5 1403.2) rotate(-30)">HUSOV9</text>
<text class="xl" transform="translate(1162.5 1403.2) rotate(-30)">HUSOV10</text>
<text class="xl" transform="translate(1259.5 1403.2) rotate(-30)">HUSOV13</text>
<path d="M943.3 1133.8 H983.1" stroke="#6e6e6e" stroke-width="1.3"/>
<text class="st" x="963.9" y="1125.9">**</text>
<path d="M959.2 1168.3 H977.1" stroke="#6e6e6e" stroke-width="1.3"/>
<text class="st" x="968.85" y="1160.4">**</text>
<path d="M1039.9 1215.3 H1083" stroke="#6e6e6e" stroke-width="1.3"/>
<text class="st" x="1062.15" y="1207.4">*</text>
<path d="M1060.9 1248.5 H1084.1" stroke="#6e6e6e" stroke-width="1.3"/>
<text class="st" x="1073.2" y="1240.6">*</text>
<path d="M1137.1 1200.3 H1181.3" stroke="#6e6e6e" stroke-width="1.3"/>
<text class="st" x="1159.9" y="1192.4">*</text>
<path d="M1158.1 1233.7 H1183" stroke="#6e6e6e" stroke-width="1.3"/>
<text class="st" x="1171.25" y="1225.8">*</text>
<path d="M1230.5 1126.3 H1276.9" stroke="#6e6e6e" stroke-width="1.3"/>
<text class="st" x="1254.4" y="1118.4">*</text>
<text class="pl" x="790.5" y="1026.5" textLength="28.5" lengthAdjust="spacingAndGlyphs">H</text>
</g>
<g>
<path d="M1498.1 1355.5 V1319.02 H1512.4 V1355.5" stroke="#FFA040" stroke-width="5" fill="none"/>
<path d="M1505.25 1312.53 V1320.51 M1500.25 1312.53 H1510.25 M1500.25 1320.51 H1510.25" stroke="#FFA040" stroke-width="3.3" fill="none"/>
<path d="M1522.1 1355.5 V1316.55 H1536.4 V1355.5" stroke="#808080" stroke-width="5" fill="none"/>
<path d="M1529.25 1309.81 V1318.29 M1524.25 1309.81 H1534.25 M1524.25 1318.29 H1534.25" stroke="#808080" stroke-width="3.3" fill="none"/>
<path d="M1546.1 1355.5 V1322.02 H1560.4 V1355.5" stroke="#0000C0" stroke-width="5" fill="none"/>
<path d="M1553.25 1315.19 V1323.85 M1548.25 1315.19 H1558.25 M1548.25 1323.85 H1558.25" stroke="#0000C0" stroke-width="3.3" fill="none"/>
<path d="M1595.1 1355.5 V1080.72 H1609.4 V1355.5" stroke="#FFA040" stroke-width="5" fill="none"/>
<path d="M1602.25 1065.62 V1090.82 M1597.25 1065.62 H1607.25 M1597.25 1090.82 H1607.25" stroke="#FFA040" stroke-width="3.3" fill="none"/>
<path d="M1619.1 1355.5 V1113.7 H1633.4 V1355.5" stroke="#808080" stroke-width="5" fill="none"/>
<path d="M1626.25 1093.93 V1128.47 M1621.25 1093.93 H1631.25 M1621.25 1128.47 H1631.25" stroke="#808080" stroke-width="3.3" fill="none"/>
<path d="M1643.1 1355.5 V1257.81 H1657.4 V1355.5" stroke="#0000C0" stroke-width="5" fill="none"/>
<path d="M1650.25 1225.74 V1284.88 M1645.25 1225.74 H1655.25 M1645.25 1284.88 H1655.25" stroke="#0000C0" stroke-width="3.3" fill="none"/>
<path d="M1692.1 1355.5 V1344.07 H1706.4 V1355.5" stroke="#FFA040" stroke-width="5" fill="none"/>
<path d="M1716.1 1355.5 V1342.48 H1730.4 V1355.5" stroke="#808080" stroke-width="5" fill="none"/>
<path d="M1723.25 1336.54 V1343.41 M1718.25 1336.54 H1728.25 M1718.25 1343.41 H1728.25" stroke="#808080" stroke-width="3.3" fill="none"/>
<path d="M1740.1 1355.5 V1329.42 H1754.4 V1355.5" stroke="#0000C0" stroke-width="5" fill="none"/>
<path d="M1747.25 1325.09 V1328.76 M1742.25 1325.09 H1752.25 M1742.25 1328.76 H1752.25" stroke="#0000C0" stroke-width="3.3" fill="none"/>
<path d="M1789.1 1355.5 V1347.24 H1803.4 V1355.5" stroke="#FFA040" stroke-width="5" fill="none"/>
<path d="M1813.1 1355.5 V1343.71 H1827.4 V1355.5" stroke="#808080" stroke-width="5" fill="none"/>
<path d="M1820.25 1327.15 V1355.28 M1815.25 1327.15 H1825.25 M1815.25 1355.28 H1825.25" stroke="#808080" stroke-width="3.3" fill="none"/>
<path d="M1837.1 1355.5 V1349.53 H1851.4 V1355.5" stroke="#0000C0" stroke-width="5" fill="none"/>
<path d="M1886.1 1355.5 V1305.26 H1900.4 V1355.5" stroke="#FFA040" stroke-width="5" fill="none"/>
<path d="M1893.25 1291.33 V1314.19 M1888.25 1291.33 H1898.25 M1888.25 1314.19 H1898.25" stroke="#FFA040" stroke-width="3.3" fill="none"/>
<path d="M1910.1 1355.5 V1213.36 H1924.4 V1355.5" stroke="#808080" stroke-width="5" fill="none"/>
<path d="M1917.25 1165.92 V1255.8 M1912.25 1165.92 H1922.25 M1912.25 1255.8 H1922.25" stroke="#808080" stroke-width="3.3" fill="none"/>
<path d="M1934.1 1355.5 V1291.06 H1948.4 V1355.5" stroke="#0000C0" stroke-width="5" fill="none"/>
<path d="M1941.25 1273.23 V1303.89 M1936.25 1273.23 H1946.25 M1936.25 1303.89 H1946.25" stroke="#0000C0" stroke-width="3.3" fill="none"/>
<path d="M1486.1 1357.1 V1036.4" stroke="#000" stroke-width="3.2" fill="none"/>
<path d="M1472 1355.5 H1964.5" stroke="#000" stroke-width="3.2"/>
<polygon points="1495.55,1309.99 1498.65,1304.29 1505.25,1304.29 1508.35,1309.99 1505.25,1315.69 1498.65,1315.69" fill="#FFA040"/>
<polygon points="1502.15,1315.81 1505.25,1310.11 1511.85,1310.11 1514.95,1315.81 1511.85,1321.51 1505.25,1321.51" fill="#FFA040"/>
<polygon points="1495.55,1323.75 1498.65,1318.05 1505.25,1318.05 1508.35,1323.75 1505.25,1329.45 1498.65,1329.45" fill="#FFA040"/>
<rect x="1519.35" y="1301.28" width="13.2" height="13.2" fill="#808080"/>
<rect x="1525.95" y="1305.51" width="13.2" height="13.2" fill="#808080"/>
<rect x="1519.35" y="1315.56" width="13.2" height="13.2" fill="#808080"/>
<polygon points="1549.95,1304.2 1556.95,1317.9 1542.95,1317.9" fill="#0000C0"/>
<polygon points="1556.55,1315.31 1563.55,1329.01 1549.55,1329.01" fill="#0000C0"/>
<polygon points="1549.95,1318.49 1556.95,1332.19 1542.95,1332.19" fill="#0000C0"/>
<polygon points="1595.85,1054.4 1598.95,1048.7 1605.55,1048.7 1608.65,1054.4 1605.55,1060.1 1598.95,1060.1" fill="#FFA040"/>
<polygon points="1595.85,1082.98 1598.95,1077.28 1605.55,1077.28 1608.65,1082.98 1605.55,1088.68 1598.95,1088.68" fill="#FFA040"/>
<polygon points="1595.85,1097.27 1598.95,1091.57 1605.55,1091.57 1608.65,1097.27 1605.55,1102.97 1598.95,1102.97" fill="#FFA040"/>
<rect x="1619.65" y="1081.14" width="13.2" height="13.2" fill="#808080"/>
<rect x="1619.65" y="1094.37" width="13.2" height="13.2" fill="#808080"/>
<rect x="1619.65" y="1138.29" width="13.2" height="13.2" fill="#808080"/>
<polygon points="1650.25,1192.55 1657.25,1206.25 1643.25,1206.25" fill="#0000C0"/>
<polygon points="1650.25,1259.75 1657.25,1273.45 1643.25,1273.45" fill="#0000C0"/>
<polygon points="1650.25,1293.09 1657.25,1306.79 1643.25,1306.79" fill="#0000C0"/>
<polygon points="1692.85,1339.1 1695.95,1333.4 1702.55,1333.4 1705.65,1339.1 1702.55,1344.8 1695.95,1344.8" fill="#FFA040"/>
<polygon points="1696.45,1341.74 1699.55,1336.04 1706.15,1336.04 1709.25,1341.74 1706.15,1347.44 1699.55,1347.44" fill="#FFA040"/>
<polygon points="1689.95,1343.86 1693.05,1338.16 1699.65,1338.16 1702.75,1343.86 1699.65,1349.56 1693.05,1349.56" fill="#FFA040"/>
<rect x="1713.35" y="1328.26" width="13.2" height="13.2" fill="#808080"/>
<rect x="1719.95" y="1331.97" width="13.2" height="13.2" fill="#808080"/>
<rect x="1713.35" y="1339.9" width="13.2" height="13.2" fill="#808080"/>
<polygon points="1747.25,1316.9 1754.25,1330.6 1740.25,1330.6" fill="#0000C0"/>
<polygon points="1750.85,1320.08 1757.85,1333.77 1743.85,1333.77" fill="#0000C0"/>
<polygon points="1744.35,1323.25 1751.35,1336.95 1737.35,1336.95" fill="#0000C0"/>
<polygon points="1789.85,1343.33 1792.95,1337.63 1799.55,1337.63 1802.65,1343.33 1799.55,1349.03 1792.95,1349.03" fill="#FFA040"/>
<polygon points="1793.45,1344.92 1796.55,1339.22 1803.15,1339.22 1806.25,1344.92 1803.15,1350.62 1796.55,1350.62" fill="#FFA040"/>
<polygon points="1786.95,1345.97 1790.05,1340.27 1796.65,1340.27 1799.75,1345.97 1796.65,1351.67 1790.05,1351.67" fill="#FFA040"/>
<rect x="1813.65" y="1306.57" width="13.2" height="13.2" fill="#808080"/>
<rect x="1810.35" y="1346.78" width="13.2" height="13.2" fill="#808080"/>
<rect x="1816.95" y="1350.49" width="13.2" height="13.2" fill="#808080"/>
<polygon points="1844.25,1338.6 1851.25,1352.3 1837.25,1352.3" fill="#0000C0"/>
<polygon points="1847.85,1340.18 1854.85,1353.88 1840.85,1353.88" fill="#0000C0"/>
<polygon points="1841.35,1341.77 1848.35,1355.47 1834.35,1355.47" fill="#0000C0"/>
<polygon points="1886.85,1280.36 1889.95,1274.66 1896.55,1274.66 1899.65,1280.36 1896.55,1286.06 1889.95,1286.06" fill="#FFA040"/>
<polygon points="1883.55,1309.99 1886.65,1304.29 1893.25,1304.29 1896.35,1309.99 1893.25,1315.69 1886.65,1315.69" fill="#FFA040"/>
<polygon points="1890.15,1317.93 1893.25,1312.23 1899.85,1312.23 1902.95,1317.93 1899.85,1323.63 1893.25,1323.63" fill="#FFA040"/>
<rect x="1910.65" y="1137.23" width="13.2" height="13.2" fill="#808080"/>
<rect x="1910.65" y="1185.92" width="13.2" height="13.2" fill="#808080"/>
<rect x="1910.65" y="1289.63" width="13.2" height="13.2" fill="#808080"/>
<polygon points="1941.25,1251.55 1948.25,1265.25 1934.25,1265.25" fill="#0000C0"/>
<polygon points="1937.95,1292.03 1944.95,1305.73 1930.95,1305.73" fill="#0000C0"/>
<polygon points="1944.55,1301.55 1951.55,1315.25 1937.55,1315.25" fill="#0000C0"/>
<text class="tk" x="1470.1" y="1364.5">0</text>
<path d="M1472 1249.67 H1486.1" stroke="#000" stroke-width="3.2"/>
<text class="tk" x="1470.1" y="1258.67">20</text>
<path d="M1472 1143.83 H1486.1" stroke="#000" stroke-width="3.2"/>
<text class="tk" x="1470.1" y="1152.83">40</text>
<path d="M1472 1038 H1486.1" stroke="#000" stroke-width="3.2"/>
<text class="tk" x="1470.1" y="1047">60</text>
<text class="tt" x="1724" y="1012.5" style="font-size:26px">CD56+PD-1+ cells</text>
<text class="yl" transform="translate(1398.9 1197) rotate(-90)">% of CD56+PD-1+</text>
<text class="yl" transform="translate(1426.7 1193.4) rotate(-90)">out of EpCam-CD3- cells</text>
<text class="xl" transform="translate(1534.05 1380.6) rotate(-30)">HUSOV4</text>
<text class="xl" transform="translate(1625.45 1383.85) rotate(-30)">HUSOV6</text>
<text class="xl" transform="translate(1728.05 1380.6) rotate(-30)">HUSOV9</text>
<text class="xl" transform="translate(1825.05 1380.6) rotate(-30)">HUSOV10</text>
<text class="xl" transform="translate(1922.05 1380.6) rotate(-30)">HUSOV13</text>
<path d="M1603.2 1041.1 H1652.3" stroke="#6e6e6e" stroke-width="1.3"/>
<text class="st" x="1628.45" y="1033.2">*</text>
<path d="M1628 1074.3 H1653.6" stroke="#6e6e6e" stroke-width="1.3"/>
<text class="st" x="1641.5" y="1066.4">*</text>
<path d="M1699.2 1276.4 H1744.5" stroke="#6e6e6e" stroke-width="1.3"/>
<text class="st" x="1722.55" y="1268.5">**</text>
<path d="M1723.1 1310.4 H1745.8" stroke="#6e6e6e" stroke-width="1.3"/>
<text class="st" x="1735.15" y="1302.5">*</text>
<text class="pl" x="1367.3" y="1026" textLength="10" lengthAdjust="spacingAndGlyphs">I</text>
</g>
<rect x="861.4" y="1481.7" width="384.6" height="146.4" fill="#fff" stroke="#a3a3a3" stroke-width="2.8"/>
<circle cx="880.4" cy="1503" r="6.6" fill="#FFA040"/>
<rect x="874.1" y="1546" width="13.5" height="13.5" fill="#666"/>
<polygon points="880.8,1596 887.8,1610 873.8,1610" fill="#0000FF"/>
<text class="lg" x="918" y="1512.7">TILs</text>
<text class="lg" x="918" y="1562.1">TILs+Ad5/3-E2F-d24</text>
<text class="lg" x="918" y="1612.7">TILs+Ad5/3-E2F-d24-vIL2</text>
</svg>
</body></html>
